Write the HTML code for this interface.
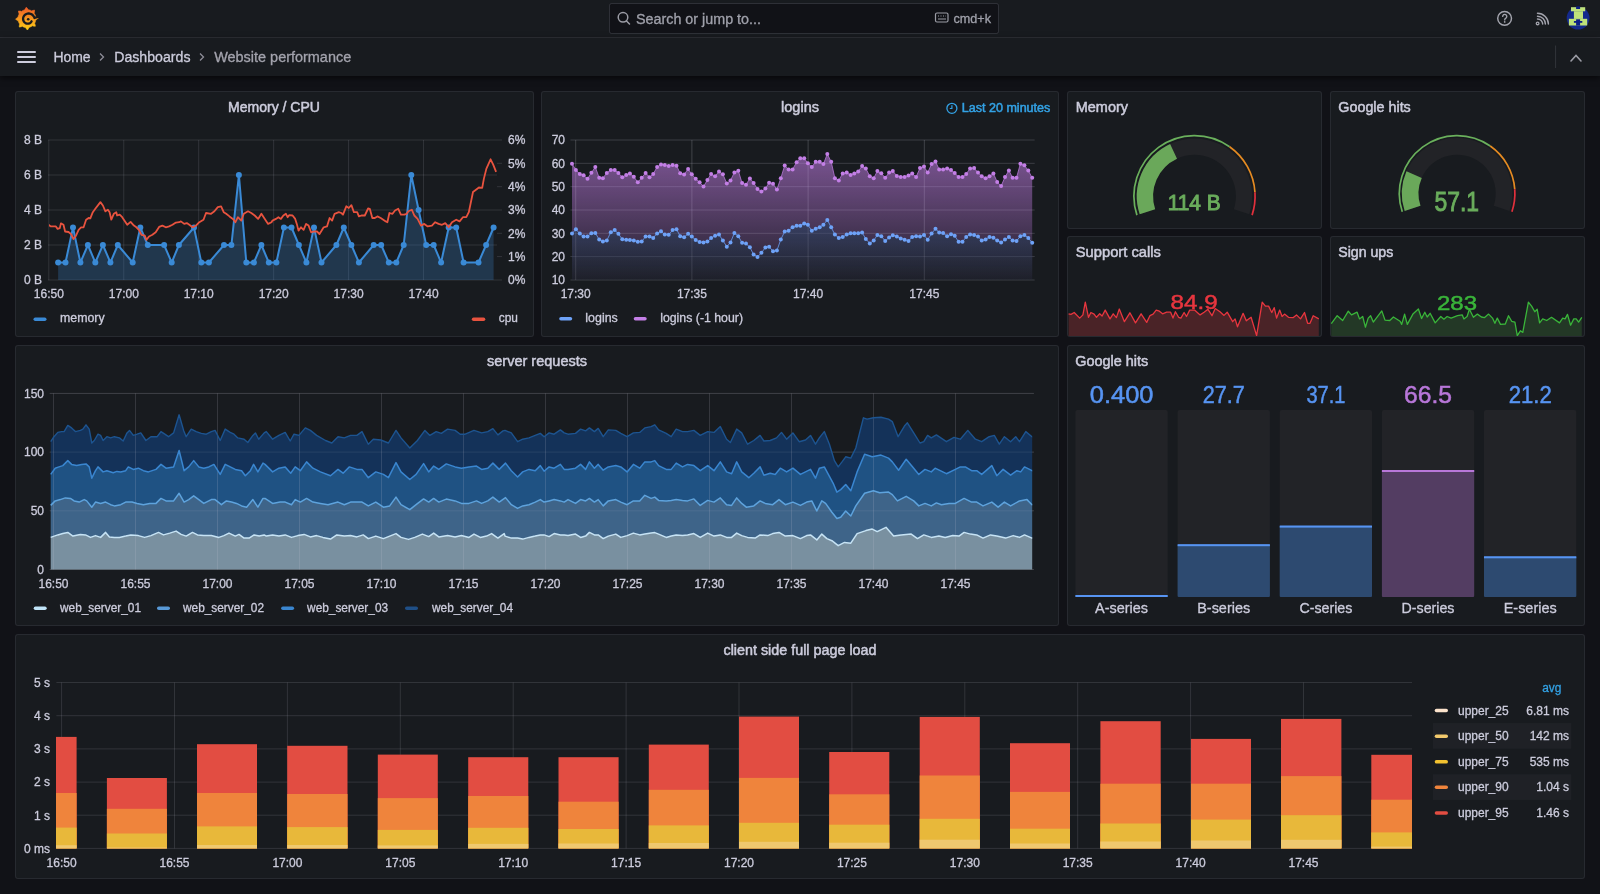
<!DOCTYPE html>
<html><head><meta charset="utf-8"><style>
html,body{margin:0;padding:0;width:1600px;height:894px;overflow:hidden;background:#111217;font-family:"Liberation Sans",sans-serif;}
.bar{position:absolute;left:0;width:1600px;background:#181b1f;}
.panel{position:absolute;box-sizing:border-box;background:#181b1f;border:1px solid rgba(204,204,220,0.09);border-radius:3px;}
svg{position:absolute;left:0;top:0;will-change:transform;}
svg text{font-family:"Liberation Sans",sans-serif;}
</style></head><body>

<div class="bar" style="top:0;height:37px;border-bottom:1px solid rgba(204,204,220,0.12)"></div>
<div class="bar" style="top:38px;height:38px;box-shadow:0 2px 6px rgba(0,0,0,0.6)"></div>
<div class="panel" style="left:15px;top:91px;width:519px;height:246px"></div>
<div class="panel" style="left:541px;top:91px;width:518px;height:246px"></div>
<div class="panel" style="left:1067px;top:91px;width:255px;height:138px"></div>
<div class="panel" style="left:1330px;top:91px;width:255px;height:138px"></div>
<div class="panel" style="left:1067px;top:236px;width:255px;height:101px"></div>
<div class="panel" style="left:1330px;top:236px;width:255px;height:101px"></div>
<div class="panel" style="left:15px;top:345px;width:1044px;height:281px"></div>
<div class="panel" style="left:1067px;top:345px;width:518px;height:281px"></div>
<div class="panel" style="left:15px;top:634px;width:1570px;height:245px"></div>
<svg width="1600" height="894" viewBox="0 0 1600 894">
<defs>
<linearGradient id="lg" x1="0" y1="0" x2="0" y2="1"><stop offset="0" stop-color="#f05a28"/><stop offset="1" stop-color="#fcd116"/></linearGradient>
<linearGradient id="gp" gradientUnits="userSpaceOnUse" x1="0" y1="140" x2="0" y2="280"><stop offset="0" stop-color="#b877d9" stop-opacity="0.68"/><stop offset="1" stop-color="#b877d9" stop-opacity="0.08"/></linearGradient>
<linearGradient id="gb" gradientUnits="userSpaceOnUse" x1="0" y1="220" x2="0" y2="280"><stop offset="0" stop-color="#5794f2" stop-opacity="0.22"/><stop offset="1" stop-color="#5794f2" stop-opacity="0.02"/></linearGradient>
<clipPath id="cp1"><rect x="49" y="130" width="448" height="151"/></clipPath>
<clipPath id="cp9"><rect x="56" y="670" width="1356" height="179"/></clipPath>
</defs>
<polygon points="26.3,7.2 27.1,8 27.7,8.8 28.2,9.7 28.8,9.8 29.4,9.9 29.9,10.1 30.5,10.3 31,10.6 31.5,10.9 32.5,10.5 33.5,10.3 34.5,10.1 34.5,11.2 34.4,12.3 34.1,13.2 34.5,13.7 34.8,14.2 35,14.7 35.3,15.3 35.5,15.8 35.6,16.4 36.5,16.8 37.4,17.4 38.3,18 37.5,18.8 36.7,19.4 35.8,19.9 35.7,20.5 35.6,21.1 35.4,21.6 35.2,22.2 34.9,22.7 34.6,23.2 35,24.2 35.2,25.2 35.4,26.2 34.3,26.2 33.2,26.1 32.3,25.8 31.8,26.2 31.3,26.5 30.8,26.7 30.2,27 29.7,27.2 29.1,27.3 28.7,28.2 28.1,29.1 27.5,30 26.7,29.2 26.1,28.4 25.6,27.5 25,27.4 24.4,27.3 23.9,27.1 23.3,26.9 22.8,26.6 22.3,26.3 21.3,26.7 20.3,26.9 19.3,27.1 19.3,26 19.4,24.9 19.7,24 19.3,23.5 19,23 18.8,22.5 18.5,21.9 18.3,21.4 18.2,20.8 17.3,20.4 16.4,19.8 15.5,19.2 16.3,18.4 17.1,17.8 18,17.3 18.1,16.7 18.2,16.1 18.4,15.6 18.6,15 18.9,14.5 19.2,14 18.8,13 18.6,12 18.4,11 19.5,11 20.6,11.1 21.5,11.4 22,11 22.5,10.7 23,10.5 23.6,10.2 24.1,10 24.7,9.9 25.1,9 25.7,8.1" fill="url(#lg)" stroke="url(#lg)" stroke-width="0.6" stroke-linejoin="round"/>
<polyline points="38.5,16.6 34.5,18 34.2,17.1 33.7,16.4 33.2,15.7 32.6,15 32,14.5 31.2,14.1 30.5,13.8 29.7,13.6 28.9,13.5 28,13.5 27.3,13.7 26.5,13.9 25.8,14.3 25.2,14.7 24.6,15.2 24.1,15.8 23.7,16.4 23.4,17.1 23.2,17.8 23.1,18.5 23.1,19.2 23.2,19.9 23.4,20.6 23.7,21.2 24,21.8 24.5,22.3 25,22.7 25.5,23.1 26.1,23.4 26.7,23.6 27.3,23.7 27.9,23.7 28.5,23.6 29.1,23.5 29.7,23.3 30.2,23 30.6,22.6 31,22.2 31.3,21.7 31.6,21.3" fill="none" stroke="#181b1f" stroke-width="2.3" stroke-linecap="round" stroke-linejoin="round"/>
<circle cx="28.2" cy="19.3" r="1.3" fill="#181b1f"/>
<rect x="609.5" y="3.5" width="389" height="30" rx="2" fill="#111217" stroke="rgba(204,204,220,0.15)" stroke-width="1"/>
<circle cx="623" cy="17.3" r="4.8" fill="none" stroke="#9b9ca5" stroke-width="1.5"/><line x1="626.5" y1="21" x2="629.5" y2="24" stroke="#9b9ca5" stroke-width="1.5" stroke-linecap="round"/>
<text x="636" y="23.5" font-size="14" fill="#9fa0aa" text-anchor="start" font-weight="400" textLength="125" lengthAdjust="spacingAndGlyphs" stroke="#9fa0aa" stroke-width="0.3">Search or jump to...</text>
<rect x="935.5" y="13" width="12.5" height="9" rx="1.5" fill="none" stroke="#9b9ca5" stroke-width="1.2"/>
<path d="M938,16h1M940.5,16h1M943,16h1M945.5,16h0.5M938,19h8" stroke="#9b9ca5" stroke-width="1"/>
<text x="953.5" y="22.5" font-size="12.5" fill="#9fa0aa" text-anchor="start" font-weight="400" textLength="37.5" lengthAdjust="spacingAndGlyphs" stroke="#9fa0aa" stroke-width="0.3">cmd+k</text>
<circle cx="1504.6" cy="18.3" r="6.9" fill="none" stroke="#a3a4ad" stroke-width="1.45"/>
<path d="M1502.7,16.4 A2.05,2.05 0 1 1 1505.9,18.1 Q1504.7,18.8 1504.7,19.9" fill="none" stroke="#a3a4ad" stroke-width="1.35" stroke-linecap="round"/>
<circle cx="1504.7" cy="21.9" r="0.85" fill="#a3a4ad"/>
<circle cx="1537.6" cy="23.4" r="1.35" fill="none" stroke="#a3a4ad" stroke-width="1.3"/>
<path d="M1537.5,18.9 A5.2,5.2 0 0 1 1542.7,24.1 M1537.5,16.2 A7.9,7.9 0 0 1 1545.4,24.1 M1537.5,13.2 A10.9,10.9 0 0 1 1548.4,24.1" fill="none" stroke="#a3a4ad" stroke-width="1.45" stroke-linecap="round"/>
<circle cx="1578.1" cy="18.1" r="11.4" fill="#142a8c"/>
<g fill="#bfe27a"><rect x="1571" y="7.2" width="14.2" height="4.1"/><rect x="1573.9" y="11.2" width="9.1" height="7.7"/><rect x="1568.9" y="18.8" width="18.3" height="6.7"/></g>
<g fill="#0c1f85"><rect x="1576.1" y="6.5" width="4" height="2.5"/><rect x="1576.1" y="19.3" width="4" height="6.3"/><rect x="1573.9" y="21" width="8.4" height="1.8"/></g>
<rect x="17" y="51" width="19" height="2" rx="1" fill="#ccccdc"/>
<rect x="17" y="56" width="19" height="2" rx="1" fill="#ccccdc"/>
<rect x="17" y="61" width="19" height="2" rx="1" fill="#ccccdc"/>
<text x="53.4" y="62.2" font-size="14" fill="#ccccdc" text-anchor="start" font-weight="400" textLength="37.2" lengthAdjust="spacingAndGlyphs" stroke="#ccccdc" stroke-width="0.3">Home</text>
<path d="M100,53.5 L103.5,57 L100,60.5" fill="none" stroke="#8e8e99" stroke-width="1.3"/>
<text x="114.2" y="62.2" font-size="14" fill="#ccccdc" text-anchor="start" font-weight="400" textLength="76.3" lengthAdjust="spacingAndGlyphs" stroke="#ccccdc" stroke-width="0.3">Dashboards</text>
<path d="M200,53.5 L203.5,57 L200,60.5" fill="none" stroke="#8e8e99" stroke-width="1.3"/>
<text x="214.2" y="62.2" font-size="14" fill="#a3a3ad" text-anchor="start" font-weight="400" textLength="137" lengthAdjust="spacingAndGlyphs" stroke="#a3a3ad" stroke-width="0.3">Website performance</text>
<line x1="1555.6" y1="45.5" x2="1555.6" y2="68" stroke="rgba(204,204,220,0.15)" stroke-width="1"/>
<path d="M1571,61 L1576,55.5 L1581,61" fill="none" stroke="#9b9ca5" stroke-width="1.6" stroke-linecap="round"/>
<text x="274" y="112.1" font-size="14" fill="#ccccdc" text-anchor="middle" font-weight="400" textLength="92" lengthAdjust="spacingAndGlyphs" stroke="#ccccdc" stroke-width="0.5">Memory / CPU</text>
<text x="800" y="112.1" font-size="14" fill="#ccccdc" text-anchor="middle" font-weight="400" textLength="38" lengthAdjust="spacingAndGlyphs" stroke="#ccccdc" stroke-width="0.5">logins</text>
<text x="1075.8" y="112.1" font-size="14" fill="#ccccdc" text-anchor="start" font-weight="400" textLength="52.2" lengthAdjust="spacingAndGlyphs" stroke="#ccccdc" stroke-width="0.5">Memory</text>
<text x="1338.3" y="112.1" font-size="14" fill="#ccccdc" text-anchor="start" font-weight="400" textLength="72.5" lengthAdjust="spacingAndGlyphs" stroke="#ccccdc" stroke-width="0.5">Google hits</text>
<text x="1075.8" y="256.8" font-size="14" fill="#ccccdc" text-anchor="start" font-weight="400" textLength="85" lengthAdjust="spacingAndGlyphs" stroke="#ccccdc" stroke-width="0.5">Support calls</text>
<text x="1338.3" y="256.8" font-size="14" fill="#ccccdc" text-anchor="start" font-weight="400" textLength="55" lengthAdjust="spacingAndGlyphs" stroke="#ccccdc" stroke-width="0.5">Sign ups</text>
<text x="537" y="366" font-size="14" fill="#ccccdc" text-anchor="middle" font-weight="400" textLength="100" lengthAdjust="spacingAndGlyphs" stroke="#ccccdc" stroke-width="0.5">server requests</text>
<text x="1075.2" y="366" font-size="14" fill="#ccccdc" text-anchor="start" font-weight="400" textLength="73" lengthAdjust="spacingAndGlyphs" stroke="#ccccdc" stroke-width="0.5">Google hits</text>
<text x="800" y="654.9" font-size="14" fill="#ccccdc" text-anchor="middle" font-weight="400" textLength="153" lengthAdjust="spacingAndGlyphs" stroke="#ccccdc" stroke-width="0.5">client side full page load</text>
<line x1="48" y1="140" x2="497" y2="140" stroke="rgba(204,204,220,0.14)"/>
<text x="41.9" y="144.3" font-size="12" fill="#ccccdc" text-anchor="end" font-weight="400" stroke="#ccccdc" stroke-width="0.3">8 B</text>
<line x1="48" y1="175" x2="497" y2="175" stroke="rgba(204,204,220,0.14)"/>
<text x="41.9" y="179.3" font-size="12" fill="#ccccdc" text-anchor="end" font-weight="400" stroke="#ccccdc" stroke-width="0.3">6 B</text>
<line x1="48" y1="210" x2="497" y2="210" stroke="rgba(204,204,220,0.14)"/>
<text x="41.9" y="214.3" font-size="12" fill="#ccccdc" text-anchor="end" font-weight="400" stroke="#ccccdc" stroke-width="0.3">4 B</text>
<line x1="48" y1="245" x2="497" y2="245" stroke="rgba(204,204,220,0.14)"/>
<text x="41.9" y="249.3" font-size="12" fill="#ccccdc" text-anchor="end" font-weight="400" stroke="#ccccdc" stroke-width="0.3">2 B</text>
<line x1="48" y1="280" x2="497" y2="280" stroke="rgba(204,204,220,0.14)"/>
<text x="41.9" y="284.3" font-size="12" fill="#ccccdc" text-anchor="end" font-weight="400" stroke="#ccccdc" stroke-width="0.3">0 B</text>
<line x1="48.8" y1="140" x2="48.8" y2="280" stroke="rgba(204,204,220,0.14)"/>
<text x="48.8" y="297.8" font-size="12" fill="#ccccdc" text-anchor="middle" font-weight="400" stroke="#ccccdc" stroke-width="0.3">16:50</text>
<line x1="123.75" y1="140" x2="123.75" y2="280" stroke="rgba(204,204,220,0.14)"/>
<text x="123.8" y="297.8" font-size="12" fill="#ccccdc" text-anchor="middle" font-weight="400" stroke="#ccccdc" stroke-width="0.3">17:00</text>
<line x1="198.7" y1="140" x2="198.7" y2="280" stroke="rgba(204,204,220,0.14)"/>
<text x="198.7" y="297.8" font-size="12" fill="#ccccdc" text-anchor="middle" font-weight="400" stroke="#ccccdc" stroke-width="0.3">17:10</text>
<line x1="273.65000000000003" y1="140" x2="273.65000000000003" y2="280" stroke="rgba(204,204,220,0.14)"/>
<text x="273.7" y="297.8" font-size="12" fill="#ccccdc" text-anchor="middle" font-weight="400" stroke="#ccccdc" stroke-width="0.3">17:20</text>
<line x1="348.6" y1="140" x2="348.6" y2="280" stroke="rgba(204,204,220,0.14)"/>
<text x="348.6" y="297.8" font-size="12" fill="#ccccdc" text-anchor="middle" font-weight="400" stroke="#ccccdc" stroke-width="0.3">17:30</text>
<line x1="423.55" y1="140" x2="423.55" y2="280" stroke="rgba(204,204,220,0.14)"/>
<text x="423.6" y="297.8" font-size="12" fill="#ccccdc" text-anchor="middle" font-weight="400" stroke="#ccccdc" stroke-width="0.3">17:40</text>
<line x1="497" y1="140.0" x2="502" y2="140.0" stroke="rgba(204,204,220,0.14)"/>
<text x="508" y="144.3" font-size="12" fill="#ccccdc" text-anchor="start" font-weight="400" stroke="#ccccdc" stroke-width="0.3">6%</text>
<line x1="497" y1="163.3" x2="502" y2="163.3" stroke="rgba(204,204,220,0.14)"/>
<text x="508" y="167.6" font-size="12" fill="#ccccdc" text-anchor="start" font-weight="400" stroke="#ccccdc" stroke-width="0.3">5%</text>
<line x1="497" y1="186.7" x2="502" y2="186.7" stroke="rgba(204,204,220,0.14)"/>
<text x="508" y="191" font-size="12" fill="#ccccdc" text-anchor="start" font-weight="400" stroke="#ccccdc" stroke-width="0.3">4%</text>
<line x1="497" y1="210.0" x2="502" y2="210.0" stroke="rgba(204,204,220,0.14)"/>
<text x="508" y="214.3" font-size="12" fill="#ccccdc" text-anchor="start" font-weight="400" stroke="#ccccdc" stroke-width="0.3">3%</text>
<line x1="497" y1="233.3" x2="502" y2="233.3" stroke="rgba(204,204,220,0.14)"/>
<text x="508" y="237.6" font-size="12" fill="#ccccdc" text-anchor="start" font-weight="400" stroke="#ccccdc" stroke-width="0.3">2%</text>
<line x1="497" y1="256.6" x2="502" y2="256.6" stroke="rgba(204,204,220,0.14)"/>
<text x="508" y="260.9" font-size="12" fill="#ccccdc" text-anchor="start" font-weight="400" stroke="#ccccdc" stroke-width="0.3">1%</text>
<line x1="497" y1="280.0" x2="502" y2="280.0" stroke="rgba(204,204,220,0.14)"/>
<text x="508" y="284.3" font-size="12" fill="#ccccdc" text-anchor="start" font-weight="400" stroke="#ccccdc" stroke-width="0.3">0%</text>
<polygon points="58.1,280 58.1,262.5 65.5,262.5 73,227.5 80.4,262.5 87.9,245 95.3,262.5 102.9,245 110.4,262.5 117.8,245 132.7,262.5 140.3,227.5 147.8,245 164.1,245 171.7,262.5 178.9,245 194,227.5 201.3,262.5 208.9,262.5 224,245 231.4,245 238.9,175 246.3,262.5 253.9,262.5 261.4,245 268.8,262.5 276.4,262.5 283.9,227.5 291.5,227.5 298.9,245 306.4,262.5 314,227.5 321.5,262.5 336.4,245 343.8,227.5 351.4,245 358.9,262.5 373.7,245 381.2,245 388.8,262.5 396.3,262.5 403.7,245 411.3,175 418.6,210 426.2,245 433.7,245 441.1,262.5 448.7,227.5 456.2,227.5 463.6,262.5 478.5,262.5 486.1,245 493.6,227.5 493.6,280" fill="#3a8ad6" fill-opacity="0.25"/>
<polyline points="58.1,262.5 65.5,262.5 73,227.5 80.4,262.5 87.9,245 95.3,262.5 102.9,245 110.4,262.5 117.8,245 132.7,262.5 140.3,227.5 147.8,245 164.1,245 171.7,262.5 178.9,245 194,227.5 201.3,262.5 208.9,262.5 224,245 231.4,245 238.9,175 246.3,262.5 253.9,262.5 261.4,245 268.8,262.5 276.4,262.5 283.9,227.5 291.5,227.5 298.9,245 306.4,262.5 314,227.5 321.5,262.5 336.4,245 343.8,227.5 351.4,245 358.9,262.5 373.7,245 381.2,245 388.8,262.5 396.3,262.5 403.7,245 411.3,175 418.6,210 426.2,245 433.7,245 441.1,262.5 448.7,227.5 456.2,227.5 463.6,262.5 478.5,262.5 486.1,245 493.6,227.5" fill="none" stroke="#3a8ad6" stroke-width="2" stroke-linejoin="round"/>
<circle cx="58.1" cy="262.5" r="3" fill="#3a8ad6"/>
<circle cx="65.5" cy="262.5" r="3" fill="#3a8ad6"/>
<circle cx="73" cy="227.5" r="3" fill="#3a8ad6"/>
<circle cx="80.4" cy="262.5" r="3" fill="#3a8ad6"/>
<circle cx="87.9" cy="245" r="3" fill="#3a8ad6"/>
<circle cx="95.3" cy="262.5" r="3" fill="#3a8ad6"/>
<circle cx="102.9" cy="245" r="3" fill="#3a8ad6"/>
<circle cx="110.4" cy="262.5" r="3" fill="#3a8ad6"/>
<circle cx="117.8" cy="245" r="3" fill="#3a8ad6"/>
<circle cx="132.7" cy="262.5" r="3" fill="#3a8ad6"/>
<circle cx="140.3" cy="227.5" r="3" fill="#3a8ad6"/>
<circle cx="147.8" cy="245" r="3" fill="#3a8ad6"/>
<circle cx="164.1" cy="245" r="3" fill="#3a8ad6"/>
<circle cx="171.7" cy="262.5" r="3" fill="#3a8ad6"/>
<circle cx="178.9" cy="245" r="3" fill="#3a8ad6"/>
<circle cx="194" cy="227.5" r="3" fill="#3a8ad6"/>
<circle cx="201.3" cy="262.5" r="3" fill="#3a8ad6"/>
<circle cx="208.9" cy="262.5" r="3" fill="#3a8ad6"/>
<circle cx="224" cy="245" r="3" fill="#3a8ad6"/>
<circle cx="231.4" cy="245" r="3" fill="#3a8ad6"/>
<circle cx="238.9" cy="175" r="3" fill="#3a8ad6"/>
<circle cx="246.3" cy="262.5" r="3" fill="#3a8ad6"/>
<circle cx="253.9" cy="262.5" r="3" fill="#3a8ad6"/>
<circle cx="261.4" cy="245" r="3" fill="#3a8ad6"/>
<circle cx="268.8" cy="262.5" r="3" fill="#3a8ad6"/>
<circle cx="276.4" cy="262.5" r="3" fill="#3a8ad6"/>
<circle cx="283.9" cy="227.5" r="3" fill="#3a8ad6"/>
<circle cx="291.5" cy="227.5" r="3" fill="#3a8ad6"/>
<circle cx="298.9" cy="245" r="3" fill="#3a8ad6"/>
<circle cx="306.4" cy="262.5" r="3" fill="#3a8ad6"/>
<circle cx="314" cy="227.5" r="3" fill="#3a8ad6"/>
<circle cx="321.5" cy="262.5" r="3" fill="#3a8ad6"/>
<circle cx="336.4" cy="245" r="3" fill="#3a8ad6"/>
<circle cx="343.8" cy="227.5" r="3" fill="#3a8ad6"/>
<circle cx="351.4" cy="245" r="3" fill="#3a8ad6"/>
<circle cx="358.9" cy="262.5" r="3" fill="#3a8ad6"/>
<circle cx="373.7" cy="245" r="3" fill="#3a8ad6"/>
<circle cx="381.2" cy="245" r="3" fill="#3a8ad6"/>
<circle cx="388.8" cy="262.5" r="3" fill="#3a8ad6"/>
<circle cx="396.3" cy="262.5" r="3" fill="#3a8ad6"/>
<circle cx="403.7" cy="245" r="3" fill="#3a8ad6"/>
<circle cx="411.3" cy="175" r="3" fill="#3a8ad6"/>
<circle cx="418.6" cy="210" r="3" fill="#3a8ad6"/>
<circle cx="426.2" cy="245" r="3" fill="#3a8ad6"/>
<circle cx="433.7" cy="245" r="3" fill="#3a8ad6"/>
<circle cx="441.1" cy="262.5" r="3" fill="#3a8ad6"/>
<circle cx="448.7" cy="227.5" r="3" fill="#3a8ad6"/>
<circle cx="456.2" cy="227.5" r="3" fill="#3a8ad6"/>
<circle cx="463.6" cy="262.5" r="3" fill="#3a8ad6"/>
<circle cx="478.5" cy="262.5" r="3" fill="#3a8ad6"/>
<circle cx="486.1" cy="245" r="3" fill="#3a8ad6"/>
<circle cx="493.6" cy="227.5" r="3" fill="#3a8ad6"/>
<polyline points="48.4,224.8 50.9,226.4 55.9,226.4 57.6,228.9 59.8,228.1 60.9,223.4 63.5,224.8 65.1,231.5 68.5,232 71,234 73.5,239 76,235.7 78.6,229.8 81.1,227.3 83.6,227.3 86.1,219.7 88.6,218 90.3,218.4 92.8,212.2 95.3,208.8 100.4,202.1 102.9,205.5 105.4,211.3 107.9,209.7 109.6,212.2 111.3,219.7 113.8,213.8 116.3,212.2 117.1,215.5 119.7,214.7 122.2,217.2 127.2,224.8 130.6,221.9 133.9,225.6 136.4,227.3 138.9,229.8 141.5,234.8 144.8,235.7 146.5,239.8 149,236.5 152.4,234.8 155.7,232.3 159.1,226.9 162.4,225.6 165.8,227.3 169.1,226.4 172.5,224.8 175.9,222.6 179.2,222.2 180.9,221.4 184.2,223.9 186.8,223.1 189.3,224.8 192.6,227.3 196,225.6 199.3,222.2 203.5,219.7 206,213 211.1,213.8 214.4,211.3 217.8,207.1 221.1,206.3 223.7,212.2 226.2,213.8 229.5,216.4 232.9,218.9 235.4,222.2 237.9,217.2 241.3,220.6 243.8,213.8 248,211.3 251.3,213 254.7,215.5 258.1,218.9 261.4,213.8 264.8,218.9 268.1,223.9 271.5,222.2 272.5,220.6 275.9,218.9 278.4,217.2 280.9,218.9 283.4,215.5 285.9,213.8 287.6,217.2 289.3,215.2 292.6,215.5 295.2,218.9 296.8,223.9 298.5,230.6 301,227.3 303.6,229.8 306.1,223.9 308.6,225.6 311.1,232.3 313.6,231.5 317,231.5 319.5,234 323.7,227.3 327,226.4 329.6,218 332.1,220.6 334.6,213.8 338.8,212.2 341.3,213 343,214.7 346.3,206.3 348.8,208 351.4,205.1 353.9,212.2 357.2,212.2 358.9,216.4 361.4,215.5 364.8,215.5 368.1,208.5 369.8,208.8 372.3,218 374.8,218 377.4,216.4 380.7,218 385.8,221.4 387.4,222.2 389.4,213 392.5,213.8 395,210.5 398.3,208.8 400.9,214.7 404.2,214.7 406.7,213.8 408.4,211.3 411.8,209.7 414.3,215.5 417.6,218.9 421,225.6 424.3,223.9 427.7,226.4 431.9,225.6 435.2,222.2 438.6,223.9 442,224.8 445.3,223.1 448.7,227.3 452,222.2 456.2,219.7 459.6,221.4 462.9,217.2 466.3,217.2 468.8,212.2 473,192 476.3,189.5 478.9,187.5 482.2,187.8 483.9,178.6 486.4,168.6 490.6,159.3 493.1,164.4 496.1,171.9" fill="none" stroke="#e8533f" stroke-width="1.8" stroke-linejoin="round" clip-path="url(#cp1)"/>
<rect x="33.5" y="317.5" width="13" height="3.5" rx="1.75" fill="#3a8ad6"/>
<text x="60" y="322.2" font-size="12" fill="#ccccdc" text-anchor="start" font-weight="400" textLength="44.6" lengthAdjust="spacingAndGlyphs" stroke="#ccccdc" stroke-width="0.3">memory</text>
<rect x="471.8" y="317.5" width="13.5" height="3.5" rx="1.75" fill="#e8533f"/>
<text x="498.8" y="322.2" font-size="12" fill="#ccccdc" text-anchor="start" font-weight="400" textLength="19.2" lengthAdjust="spacingAndGlyphs" stroke="#ccccdc" stroke-width="0.3">cpu</text>
<line x1="570.4" y1="140.0" x2="1034.7" y2="140.0" stroke="rgba(204,204,220,0.14)"/>
<text x="565" y="144.3" font-size="12" fill="#ccccdc" text-anchor="end" font-weight="400" stroke="#ccccdc" stroke-width="0.3">70</text>
<line x1="570.4" y1="163.3" x2="1034.7" y2="163.3" stroke="rgba(204,204,220,0.14)"/>
<text x="565" y="167.6" font-size="12" fill="#ccccdc" text-anchor="end" font-weight="400" stroke="#ccccdc" stroke-width="0.3">60</text>
<line x1="570.4" y1="186.7" x2="1034.7" y2="186.7" stroke="rgba(204,204,220,0.14)"/>
<text x="565" y="191" font-size="12" fill="#ccccdc" text-anchor="end" font-weight="400" stroke="#ccccdc" stroke-width="0.3">50</text>
<line x1="570.4" y1="210.0" x2="1034.7" y2="210.0" stroke="rgba(204,204,220,0.14)"/>
<text x="565" y="214.3" font-size="12" fill="#ccccdc" text-anchor="end" font-weight="400" stroke="#ccccdc" stroke-width="0.3">40</text>
<line x1="570.4" y1="233.3" x2="1034.7" y2="233.3" stroke="rgba(204,204,220,0.14)"/>
<text x="565" y="237.6" font-size="12" fill="#ccccdc" text-anchor="end" font-weight="400" stroke="#ccccdc" stroke-width="0.3">30</text>
<line x1="570.4" y1="256.6" x2="1034.7" y2="256.6" stroke="rgba(204,204,220,0.14)"/>
<text x="565" y="260.9" font-size="12" fill="#ccccdc" text-anchor="end" font-weight="400" stroke="#ccccdc" stroke-width="0.3">20</text>
<line x1="570.4" y1="280.0" x2="1034.7" y2="280.0" stroke="rgba(204,204,220,0.14)"/>
<text x="565" y="284.3" font-size="12" fill="#ccccdc" text-anchor="end" font-weight="400" stroke="#ccccdc" stroke-width="0.3">10</text>
<line x1="575.7" y1="140" x2="575.7" y2="280" stroke="rgba(204,204,220,0.14)"/>
<text x="575.7" y="297.8" font-size="12" fill="#ccccdc" text-anchor="middle" font-weight="400" stroke="#ccccdc" stroke-width="0.3">17:30</text>
<line x1="691.9" y1="140" x2="691.9" y2="280" stroke="rgba(204,204,220,0.14)"/>
<text x="691.9" y="297.8" font-size="12" fill="#ccccdc" text-anchor="middle" font-weight="400" stroke="#ccccdc" stroke-width="0.3">17:35</text>
<line x1="808.1" y1="140" x2="808.1" y2="280" stroke="rgba(204,204,220,0.14)"/>
<text x="808.1" y="297.8" font-size="12" fill="#ccccdc" text-anchor="middle" font-weight="400" stroke="#ccccdc" stroke-width="0.3">17:40</text>
<line x1="924.3" y1="140" x2="924.3" y2="280" stroke="rgba(204,204,220,0.14)"/>
<text x="924.3" y="297.8" font-size="12" fill="#ccccdc" text-anchor="middle" font-weight="400" stroke="#ccccdc" stroke-width="0.3">17:45</text>
<polygon points="572,280 572,163.7 575.9,170 579.8,173.9 583.6,175.3 587.5,178.8 591.4,172.7 595.3,167.1 599.2,177.8 602.9,178.2 606.8,172.9 610.8,170 614.7,170 618.4,172.9 622.3,177.3 626.2,174.9 629.9,173.5 633.8,176.7 637.8,182.3 641.7,177.8 645.6,172.9 649.5,177.3 653.2,173.9 657.1,167.1 661,164.5 664.8,164.9 668.7,166.1 672.6,164.9 676.5,165.7 680.2,173.3 684.1,174.5 688.1,169 691.8,174.3 695.7,178.8 699.6,182.3 703.5,186.6 707.4,180 711.1,173.9 715.1,176.3 719,171.4 722.9,174.3 726.8,183.5 730.5,180.4 734.4,172.4 738.3,170.8 742.1,183.1 746,184.7 749.9,178.4 753.6,182.9 757.5,189 761.4,191.5 765.4,188.6 769.1,182.7 773,183.7 776.9,189.6 780.8,178.2 784.7,165.5 788.6,169.4 792.6,169.4 796.6,162.2 800.3,158.3 804.2,158.3 807.9,163.2 811.8,167.1 815.7,161.8 819.7,161.8 823.4,164.1 827.3,154 831.2,161.8 834.9,178.2 838.8,180.4 842.7,173.5 846.7,172.6 850.6,175.1 854.3,173.5 858.2,171.4 862.1,166.1 865.8,168.4 869.8,176.3 873.7,178.2 877.4,171 881.3,173.3 885.2,177.8 889.1,172.6 892.8,171 896.8,175.9 900.7,176.9 904.6,176.9 908.5,175.5 912.2,173.5 916.1,176.9 920,168.1 924,166.5 927.7,172.6 931.6,164.1 935.5,161.6 939.2,169.4 943.1,169.4 947.1,168.4 951,170 954.7,173.1 958.6,177.1 962.5,177.1 966.2,173.9 970.1,168.4 974.1,168.1 978,172.6 981.7,176.3 985.6,178.2 989.5,176.3 993.4,173.5 997.2,181.9 1001.1,186.1 1005,177.1 1008.9,170.4 1012.6,177.8 1016.5,177.8 1020.4,163.7 1024.4,165.3 1028.3,170.6 1032.2,177.8 1032.2,280" fill="url(#gp)"/>
<polygon points="572,280 572,233.6 575.9,229.3 579.8,233.6 583.6,236.5 587.5,236.5 591.4,233.2 595.3,233 599.2,239.5 602.9,241.4 606.8,240.5 610.8,232.2 614.7,230.1 618.4,233.8 622.3,239.3 626.2,239.7 629.9,239.9 633.8,240.5 637.8,241.8 641.7,241.6 645.6,236.5 649.5,236.5 653.2,237.9 657.1,233.4 661,231.3 664.8,234.6 668.7,234.8 672.6,230.1 676.5,229.3 680.2,236.2 684.1,237.3 688.1,233.8 691.8,236.5 695.7,240.1 699.6,242 703.5,242.4 707.4,241.6 711.1,238.1 715.1,235.8 719,234.6 722.9,240.5 726.8,246.7 730.5,242.4 734.4,233 738.3,236.2 742.1,242.8 746,243.6 749.9,247.3 753.6,254.5 757.5,256.9 761.4,252.8 765.4,247.5 769.1,246.7 773,251.2 776.9,250.6 780.8,239.5 784.7,231.5 788.6,230.7 792.6,227.3 796.6,225.8 800.3,225.8 804.2,223.4 807.9,224.8 811.8,230.7 815.7,228.7 819.7,227.2 823.4,224.8 827.3,219.9 831.2,227.3 834.9,234.6 838.8,237.9 842.7,237.1 846.7,234.6 850.6,233.2 854.3,233.2 858.2,233.2 862.1,232.6 865.8,238.9 869.8,243.4 873.7,240.5 877.4,235 881.3,236.2 885.2,241 889.1,237.5 892.8,235.2 896.8,236.5 900.7,238.5 904.6,239.7 908.5,241 912.2,236.9 916.1,236.2 920,236.5 924,235 927.7,239.7 931.6,233.6 935.5,228.7 939.2,232.6 943.1,233 947.1,236.2 951,234.2 954.7,235.8 958.6,241.8 962.5,241.8 966.2,236.9 970.1,234.6 974.1,235 978,236.5 981.7,240.5 985.6,239.5 989.5,236.9 993.4,237.7 997.2,240.5 1001.1,242.4 1005,239.5 1008.9,236.9 1012.6,240.5 1016.5,241 1020.4,236.2 1024.4,235 1028.3,237.9 1032.2,242.8 1032.2,280" fill="#181b1f" fill-opacity="0.55"/>
<polygon points="572,280 572,233.6 575.9,229.3 579.8,233.6 583.6,236.5 587.5,236.5 591.4,233.2 595.3,233 599.2,239.5 602.9,241.4 606.8,240.5 610.8,232.2 614.7,230.1 618.4,233.8 622.3,239.3 626.2,239.7 629.9,239.9 633.8,240.5 637.8,241.8 641.7,241.6 645.6,236.5 649.5,236.5 653.2,237.9 657.1,233.4 661,231.3 664.8,234.6 668.7,234.8 672.6,230.1 676.5,229.3 680.2,236.2 684.1,237.3 688.1,233.8 691.8,236.5 695.7,240.1 699.6,242 703.5,242.4 707.4,241.6 711.1,238.1 715.1,235.8 719,234.6 722.9,240.5 726.8,246.7 730.5,242.4 734.4,233 738.3,236.2 742.1,242.8 746,243.6 749.9,247.3 753.6,254.5 757.5,256.9 761.4,252.8 765.4,247.5 769.1,246.7 773,251.2 776.9,250.6 780.8,239.5 784.7,231.5 788.6,230.7 792.6,227.3 796.6,225.8 800.3,225.8 804.2,223.4 807.9,224.8 811.8,230.7 815.7,228.7 819.7,227.2 823.4,224.8 827.3,219.9 831.2,227.3 834.9,234.6 838.8,237.9 842.7,237.1 846.7,234.6 850.6,233.2 854.3,233.2 858.2,233.2 862.1,232.6 865.8,238.9 869.8,243.4 873.7,240.5 877.4,235 881.3,236.2 885.2,241 889.1,237.5 892.8,235.2 896.8,236.5 900.7,238.5 904.6,239.7 908.5,241 912.2,236.9 916.1,236.2 920,236.5 924,235 927.7,239.7 931.6,233.6 935.5,228.7 939.2,232.6 943.1,233 947.1,236.2 951,234.2 954.7,235.8 958.6,241.8 962.5,241.8 966.2,236.9 970.1,234.6 974.1,235 978,236.5 981.7,240.5 985.6,239.5 989.5,236.9 993.4,237.7 997.2,240.5 1001.1,242.4 1005,239.5 1008.9,236.9 1012.6,240.5 1016.5,241 1020.4,236.2 1024.4,235 1028.3,237.9 1032.2,242.8 1032.2,280" fill="url(#gb)"/>
<line x1="575.7" y1="140" x2="575.7" y2="280" stroke="rgba(204,204,220,0.10)"/>
<line x1="691.9" y1="140" x2="691.9" y2="280" stroke="rgba(204,204,220,0.10)"/>
<line x1="808.1" y1="140" x2="808.1" y2="280" stroke="rgba(204,204,220,0.10)"/>
<line x1="924.3" y1="140" x2="924.3" y2="280" stroke="rgba(204,204,220,0.10)"/>
<line x1="570.4" y1="140.0" x2="1034.7" y2="140.0" stroke="rgba(204,204,220,0.07)"/>
<line x1="570.4" y1="163.3" x2="1034.7" y2="163.3" stroke="rgba(204,204,220,0.07)"/>
<line x1="570.4" y1="186.7" x2="1034.7" y2="186.7" stroke="rgba(204,204,220,0.07)"/>
<line x1="570.4" y1="210.0" x2="1034.7" y2="210.0" stroke="rgba(204,204,220,0.07)"/>
<line x1="570.4" y1="233.3" x2="1034.7" y2="233.3" stroke="rgba(204,204,220,0.07)"/>
<line x1="570.4" y1="256.6" x2="1034.7" y2="256.6" stroke="rgba(204,204,220,0.07)"/>
<line x1="570.4" y1="280.0" x2="1034.7" y2="280.0" stroke="rgba(204,204,220,0.07)"/>
<polyline points="572,163.7 575.9,170 579.8,173.9 583.6,175.3 587.5,178.8 591.4,172.7 595.3,167.1 599.2,177.8 602.9,178.2 606.8,172.9 610.8,170 614.7,170 618.4,172.9 622.3,177.3 626.2,174.9 629.9,173.5 633.8,176.7 637.8,182.3 641.7,177.8 645.6,172.9 649.5,177.3 653.2,173.9 657.1,167.1 661,164.5 664.8,164.9 668.7,166.1 672.6,164.9 676.5,165.7 680.2,173.3 684.1,174.5 688.1,169 691.8,174.3 695.7,178.8 699.6,182.3 703.5,186.6 707.4,180 711.1,173.9 715.1,176.3 719,171.4 722.9,174.3 726.8,183.5 730.5,180.4 734.4,172.4 738.3,170.8 742.1,183.1 746,184.7 749.9,178.4 753.6,182.9 757.5,189 761.4,191.5 765.4,188.6 769.1,182.7 773,183.7 776.9,189.6 780.8,178.2 784.7,165.5 788.6,169.4 792.6,169.4 796.6,162.2 800.3,158.3 804.2,158.3 807.9,163.2 811.8,167.1 815.7,161.8 819.7,161.8 823.4,164.1 827.3,154 831.2,161.8 834.9,178.2 838.8,180.4 842.7,173.5 846.7,172.6 850.6,175.1 854.3,173.5 858.2,171.4 862.1,166.1 865.8,168.4 869.8,176.3 873.7,178.2 877.4,171 881.3,173.3 885.2,177.8 889.1,172.6 892.8,171 896.8,175.9 900.7,176.9 904.6,176.9 908.5,175.5 912.2,173.5 916.1,176.9 920,168.1 924,166.5 927.7,172.6 931.6,164.1 935.5,161.6 939.2,169.4 943.1,169.4 947.1,168.4 951,170 954.7,173.1 958.6,177.1 962.5,177.1 966.2,173.9 970.1,168.4 974.1,168.1 978,172.6 981.7,176.3 985.6,178.2 989.5,176.3 993.4,173.5 997.2,181.9 1001.1,186.1 1005,177.1 1008.9,170.4 1012.6,177.8 1016.5,177.8 1020.4,163.7 1024.4,165.3 1028.3,170.6 1032.2,177.8" fill="none" stroke="#b877d9" stroke-width="1" stroke-opacity="0.8"/>
<polyline points="572,233.6 575.9,229.3 579.8,233.6 583.6,236.5 587.5,236.5 591.4,233.2 595.3,233 599.2,239.5 602.9,241.4 606.8,240.5 610.8,232.2 614.7,230.1 618.4,233.8 622.3,239.3 626.2,239.7 629.9,239.9 633.8,240.5 637.8,241.8 641.7,241.6 645.6,236.5 649.5,236.5 653.2,237.9 657.1,233.4 661,231.3 664.8,234.6 668.7,234.8 672.6,230.1 676.5,229.3 680.2,236.2 684.1,237.3 688.1,233.8 691.8,236.5 695.7,240.1 699.6,242 703.5,242.4 707.4,241.6 711.1,238.1 715.1,235.8 719,234.6 722.9,240.5 726.8,246.7 730.5,242.4 734.4,233 738.3,236.2 742.1,242.8 746,243.6 749.9,247.3 753.6,254.5 757.5,256.9 761.4,252.8 765.4,247.5 769.1,246.7 773,251.2 776.9,250.6 780.8,239.5 784.7,231.5 788.6,230.7 792.6,227.3 796.6,225.8 800.3,225.8 804.2,223.4 807.9,224.8 811.8,230.7 815.7,228.7 819.7,227.2 823.4,224.8 827.3,219.9 831.2,227.3 834.9,234.6 838.8,237.9 842.7,237.1 846.7,234.6 850.6,233.2 854.3,233.2 858.2,233.2 862.1,232.6 865.8,238.9 869.8,243.4 873.7,240.5 877.4,235 881.3,236.2 885.2,241 889.1,237.5 892.8,235.2 896.8,236.5 900.7,238.5 904.6,239.7 908.5,241 912.2,236.9 916.1,236.2 920,236.5 924,235 927.7,239.7 931.6,233.6 935.5,228.7 939.2,232.6 943.1,233 947.1,236.2 951,234.2 954.7,235.8 958.6,241.8 962.5,241.8 966.2,236.9 970.1,234.6 974.1,235 978,236.5 981.7,240.5 985.6,239.5 989.5,236.9 993.4,237.7 997.2,240.5 1001.1,242.4 1005,239.5 1008.9,236.9 1012.6,240.5 1016.5,241 1020.4,236.2 1024.4,235 1028.3,237.9 1032.2,242.8" fill="none" stroke="#6e9ff5" stroke-width="1" stroke-opacity="0.8"/>
<circle cx="572" cy="163.7" r="2" fill="#c37fe6"/>
<circle cx="575.9" cy="170" r="2" fill="#c37fe6"/>
<circle cx="579.8" cy="173.9" r="2" fill="#c37fe6"/>
<circle cx="583.6" cy="175.3" r="2" fill="#c37fe6"/>
<circle cx="587.5" cy="178.8" r="2" fill="#c37fe6"/>
<circle cx="591.4" cy="172.7" r="2" fill="#c37fe6"/>
<circle cx="595.3" cy="167.1" r="2" fill="#c37fe6"/>
<circle cx="599.2" cy="177.8" r="2" fill="#c37fe6"/>
<circle cx="602.9" cy="178.2" r="2" fill="#c37fe6"/>
<circle cx="606.8" cy="172.9" r="2" fill="#c37fe6"/>
<circle cx="610.8" cy="170" r="2" fill="#c37fe6"/>
<circle cx="614.7" cy="170" r="2" fill="#c37fe6"/>
<circle cx="618.4" cy="172.9" r="2" fill="#c37fe6"/>
<circle cx="622.3" cy="177.3" r="2" fill="#c37fe6"/>
<circle cx="626.2" cy="174.9" r="2" fill="#c37fe6"/>
<circle cx="629.9" cy="173.5" r="2" fill="#c37fe6"/>
<circle cx="633.8" cy="176.7" r="2" fill="#c37fe6"/>
<circle cx="637.8" cy="182.3" r="2" fill="#c37fe6"/>
<circle cx="641.7" cy="177.8" r="2" fill="#c37fe6"/>
<circle cx="645.6" cy="172.9" r="2" fill="#c37fe6"/>
<circle cx="649.5" cy="177.3" r="2" fill="#c37fe6"/>
<circle cx="653.2" cy="173.9" r="2" fill="#c37fe6"/>
<circle cx="657.1" cy="167.1" r="2" fill="#c37fe6"/>
<circle cx="661" cy="164.5" r="2" fill="#c37fe6"/>
<circle cx="664.8" cy="164.9" r="2" fill="#c37fe6"/>
<circle cx="668.7" cy="166.1" r="2" fill="#c37fe6"/>
<circle cx="672.6" cy="164.9" r="2" fill="#c37fe6"/>
<circle cx="676.5" cy="165.7" r="2" fill="#c37fe6"/>
<circle cx="680.2" cy="173.3" r="2" fill="#c37fe6"/>
<circle cx="684.1" cy="174.5" r="2" fill="#c37fe6"/>
<circle cx="688.1" cy="169" r="2" fill="#c37fe6"/>
<circle cx="691.8" cy="174.3" r="2" fill="#c37fe6"/>
<circle cx="695.7" cy="178.8" r="2" fill="#c37fe6"/>
<circle cx="699.6" cy="182.3" r="2" fill="#c37fe6"/>
<circle cx="703.5" cy="186.6" r="2" fill="#c37fe6"/>
<circle cx="707.4" cy="180" r="2" fill="#c37fe6"/>
<circle cx="711.1" cy="173.9" r="2" fill="#c37fe6"/>
<circle cx="715.1" cy="176.3" r="2" fill="#c37fe6"/>
<circle cx="719" cy="171.4" r="2" fill="#c37fe6"/>
<circle cx="722.9" cy="174.3" r="2" fill="#c37fe6"/>
<circle cx="726.8" cy="183.5" r="2" fill="#c37fe6"/>
<circle cx="730.5" cy="180.4" r="2" fill="#c37fe6"/>
<circle cx="734.4" cy="172.4" r="2" fill="#c37fe6"/>
<circle cx="738.3" cy="170.8" r="2" fill="#c37fe6"/>
<circle cx="742.1" cy="183.1" r="2" fill="#c37fe6"/>
<circle cx="746" cy="184.7" r="2" fill="#c37fe6"/>
<circle cx="749.9" cy="178.4" r="2" fill="#c37fe6"/>
<circle cx="753.6" cy="182.9" r="2" fill="#c37fe6"/>
<circle cx="757.5" cy="189" r="2" fill="#c37fe6"/>
<circle cx="761.4" cy="191.5" r="2" fill="#c37fe6"/>
<circle cx="765.4" cy="188.6" r="2" fill="#c37fe6"/>
<circle cx="769.1" cy="182.7" r="2" fill="#c37fe6"/>
<circle cx="773" cy="183.7" r="2" fill="#c37fe6"/>
<circle cx="776.9" cy="189.6" r="2" fill="#c37fe6"/>
<circle cx="780.8" cy="178.2" r="2" fill="#c37fe6"/>
<circle cx="784.7" cy="165.5" r="2" fill="#c37fe6"/>
<circle cx="788.6" cy="169.4" r="2" fill="#c37fe6"/>
<circle cx="792.6" cy="169.4" r="2" fill="#c37fe6"/>
<circle cx="796.6" cy="162.2" r="2" fill="#c37fe6"/>
<circle cx="800.3" cy="158.3" r="2" fill="#c37fe6"/>
<circle cx="804.2" cy="158.3" r="2" fill="#c37fe6"/>
<circle cx="807.9" cy="163.2" r="2" fill="#c37fe6"/>
<circle cx="811.8" cy="167.1" r="2" fill="#c37fe6"/>
<circle cx="815.7" cy="161.8" r="2" fill="#c37fe6"/>
<circle cx="819.7" cy="161.8" r="2" fill="#c37fe6"/>
<circle cx="823.4" cy="164.1" r="2" fill="#c37fe6"/>
<circle cx="827.3" cy="154" r="2" fill="#c37fe6"/>
<circle cx="831.2" cy="161.8" r="2" fill="#c37fe6"/>
<circle cx="834.9" cy="178.2" r="2" fill="#c37fe6"/>
<circle cx="838.8" cy="180.4" r="2" fill="#c37fe6"/>
<circle cx="842.7" cy="173.5" r="2" fill="#c37fe6"/>
<circle cx="846.7" cy="172.6" r="2" fill="#c37fe6"/>
<circle cx="850.6" cy="175.1" r="2" fill="#c37fe6"/>
<circle cx="854.3" cy="173.5" r="2" fill="#c37fe6"/>
<circle cx="858.2" cy="171.4" r="2" fill="#c37fe6"/>
<circle cx="862.1" cy="166.1" r="2" fill="#c37fe6"/>
<circle cx="865.8" cy="168.4" r="2" fill="#c37fe6"/>
<circle cx="869.8" cy="176.3" r="2" fill="#c37fe6"/>
<circle cx="873.7" cy="178.2" r="2" fill="#c37fe6"/>
<circle cx="877.4" cy="171" r="2" fill="#c37fe6"/>
<circle cx="881.3" cy="173.3" r="2" fill="#c37fe6"/>
<circle cx="885.2" cy="177.8" r="2" fill="#c37fe6"/>
<circle cx="889.1" cy="172.6" r="2" fill="#c37fe6"/>
<circle cx="892.8" cy="171" r="2" fill="#c37fe6"/>
<circle cx="896.8" cy="175.9" r="2" fill="#c37fe6"/>
<circle cx="900.7" cy="176.9" r="2" fill="#c37fe6"/>
<circle cx="904.6" cy="176.9" r="2" fill="#c37fe6"/>
<circle cx="908.5" cy="175.5" r="2" fill="#c37fe6"/>
<circle cx="912.2" cy="173.5" r="2" fill="#c37fe6"/>
<circle cx="916.1" cy="176.9" r="2" fill="#c37fe6"/>
<circle cx="920" cy="168.1" r="2" fill="#c37fe6"/>
<circle cx="924" cy="166.5" r="2" fill="#c37fe6"/>
<circle cx="927.7" cy="172.6" r="2" fill="#c37fe6"/>
<circle cx="931.6" cy="164.1" r="2" fill="#c37fe6"/>
<circle cx="935.5" cy="161.6" r="2" fill="#c37fe6"/>
<circle cx="939.2" cy="169.4" r="2" fill="#c37fe6"/>
<circle cx="943.1" cy="169.4" r="2" fill="#c37fe6"/>
<circle cx="947.1" cy="168.4" r="2" fill="#c37fe6"/>
<circle cx="951" cy="170" r="2" fill="#c37fe6"/>
<circle cx="954.7" cy="173.1" r="2" fill="#c37fe6"/>
<circle cx="958.6" cy="177.1" r="2" fill="#c37fe6"/>
<circle cx="962.5" cy="177.1" r="2" fill="#c37fe6"/>
<circle cx="966.2" cy="173.9" r="2" fill="#c37fe6"/>
<circle cx="970.1" cy="168.4" r="2" fill="#c37fe6"/>
<circle cx="974.1" cy="168.1" r="2" fill="#c37fe6"/>
<circle cx="978" cy="172.6" r="2" fill="#c37fe6"/>
<circle cx="981.7" cy="176.3" r="2" fill="#c37fe6"/>
<circle cx="985.6" cy="178.2" r="2" fill="#c37fe6"/>
<circle cx="989.5" cy="176.3" r="2" fill="#c37fe6"/>
<circle cx="993.4" cy="173.5" r="2" fill="#c37fe6"/>
<circle cx="997.2" cy="181.9" r="2" fill="#c37fe6"/>
<circle cx="1001.1" cy="186.1" r="2" fill="#c37fe6"/>
<circle cx="1005" cy="177.1" r="2" fill="#c37fe6"/>
<circle cx="1008.9" cy="170.4" r="2" fill="#c37fe6"/>
<circle cx="1012.6" cy="177.8" r="2" fill="#c37fe6"/>
<circle cx="1016.5" cy="177.8" r="2" fill="#c37fe6"/>
<circle cx="1020.4" cy="163.7" r="2" fill="#c37fe6"/>
<circle cx="1024.4" cy="165.3" r="2" fill="#c37fe6"/>
<circle cx="1028.3" cy="170.6" r="2" fill="#c37fe6"/>
<circle cx="1032.2" cy="177.8" r="2" fill="#c37fe6"/>
<circle cx="572" cy="233.6" r="2" fill="#6ea2f7"/>
<circle cx="575.9" cy="229.3" r="2" fill="#6ea2f7"/>
<circle cx="579.8" cy="233.6" r="2" fill="#6ea2f7"/>
<circle cx="583.6" cy="236.5" r="2" fill="#6ea2f7"/>
<circle cx="587.5" cy="236.5" r="2" fill="#6ea2f7"/>
<circle cx="591.4" cy="233.2" r="2" fill="#6ea2f7"/>
<circle cx="595.3" cy="233" r="2" fill="#6ea2f7"/>
<circle cx="599.2" cy="239.5" r="2" fill="#6ea2f7"/>
<circle cx="602.9" cy="241.4" r="2" fill="#6ea2f7"/>
<circle cx="606.8" cy="240.5" r="2" fill="#6ea2f7"/>
<circle cx="610.8" cy="232.2" r="2" fill="#6ea2f7"/>
<circle cx="614.7" cy="230.1" r="2" fill="#6ea2f7"/>
<circle cx="618.4" cy="233.8" r="2" fill="#6ea2f7"/>
<circle cx="622.3" cy="239.3" r="2" fill="#6ea2f7"/>
<circle cx="626.2" cy="239.7" r="2" fill="#6ea2f7"/>
<circle cx="629.9" cy="239.9" r="2" fill="#6ea2f7"/>
<circle cx="633.8" cy="240.5" r="2" fill="#6ea2f7"/>
<circle cx="637.8" cy="241.8" r="2" fill="#6ea2f7"/>
<circle cx="641.7" cy="241.6" r="2" fill="#6ea2f7"/>
<circle cx="645.6" cy="236.5" r="2" fill="#6ea2f7"/>
<circle cx="649.5" cy="236.5" r="2" fill="#6ea2f7"/>
<circle cx="653.2" cy="237.9" r="2" fill="#6ea2f7"/>
<circle cx="657.1" cy="233.4" r="2" fill="#6ea2f7"/>
<circle cx="661" cy="231.3" r="2" fill="#6ea2f7"/>
<circle cx="664.8" cy="234.6" r="2" fill="#6ea2f7"/>
<circle cx="668.7" cy="234.8" r="2" fill="#6ea2f7"/>
<circle cx="672.6" cy="230.1" r="2" fill="#6ea2f7"/>
<circle cx="676.5" cy="229.3" r="2" fill="#6ea2f7"/>
<circle cx="680.2" cy="236.2" r="2" fill="#6ea2f7"/>
<circle cx="684.1" cy="237.3" r="2" fill="#6ea2f7"/>
<circle cx="688.1" cy="233.8" r="2" fill="#6ea2f7"/>
<circle cx="691.8" cy="236.5" r="2" fill="#6ea2f7"/>
<circle cx="695.7" cy="240.1" r="2" fill="#6ea2f7"/>
<circle cx="699.6" cy="242" r="2" fill="#6ea2f7"/>
<circle cx="703.5" cy="242.4" r="2" fill="#6ea2f7"/>
<circle cx="707.4" cy="241.6" r="2" fill="#6ea2f7"/>
<circle cx="711.1" cy="238.1" r="2" fill="#6ea2f7"/>
<circle cx="715.1" cy="235.8" r="2" fill="#6ea2f7"/>
<circle cx="719" cy="234.6" r="2" fill="#6ea2f7"/>
<circle cx="722.9" cy="240.5" r="2" fill="#6ea2f7"/>
<circle cx="726.8" cy="246.7" r="2" fill="#6ea2f7"/>
<circle cx="730.5" cy="242.4" r="2" fill="#6ea2f7"/>
<circle cx="734.4" cy="233" r="2" fill="#6ea2f7"/>
<circle cx="738.3" cy="236.2" r="2" fill="#6ea2f7"/>
<circle cx="742.1" cy="242.8" r="2" fill="#6ea2f7"/>
<circle cx="746" cy="243.6" r="2" fill="#6ea2f7"/>
<circle cx="749.9" cy="247.3" r="2" fill="#6ea2f7"/>
<circle cx="753.6" cy="254.5" r="2" fill="#6ea2f7"/>
<circle cx="757.5" cy="256.9" r="2" fill="#6ea2f7"/>
<circle cx="761.4" cy="252.8" r="2" fill="#6ea2f7"/>
<circle cx="765.4" cy="247.5" r="2" fill="#6ea2f7"/>
<circle cx="769.1" cy="246.7" r="2" fill="#6ea2f7"/>
<circle cx="773" cy="251.2" r="2" fill="#6ea2f7"/>
<circle cx="776.9" cy="250.6" r="2" fill="#6ea2f7"/>
<circle cx="780.8" cy="239.5" r="2" fill="#6ea2f7"/>
<circle cx="784.7" cy="231.5" r="2" fill="#6ea2f7"/>
<circle cx="788.6" cy="230.7" r="2" fill="#6ea2f7"/>
<circle cx="792.6" cy="227.3" r="2" fill="#6ea2f7"/>
<circle cx="796.6" cy="225.8" r="2" fill="#6ea2f7"/>
<circle cx="800.3" cy="225.8" r="2" fill="#6ea2f7"/>
<circle cx="804.2" cy="223.4" r="2" fill="#6ea2f7"/>
<circle cx="807.9" cy="224.8" r="2" fill="#6ea2f7"/>
<circle cx="811.8" cy="230.7" r="2" fill="#6ea2f7"/>
<circle cx="815.7" cy="228.7" r="2" fill="#6ea2f7"/>
<circle cx="819.7" cy="227.2" r="2" fill="#6ea2f7"/>
<circle cx="823.4" cy="224.8" r="2" fill="#6ea2f7"/>
<circle cx="827.3" cy="219.9" r="2" fill="#6ea2f7"/>
<circle cx="831.2" cy="227.3" r="2" fill="#6ea2f7"/>
<circle cx="834.9" cy="234.6" r="2" fill="#6ea2f7"/>
<circle cx="838.8" cy="237.9" r="2" fill="#6ea2f7"/>
<circle cx="842.7" cy="237.1" r="2" fill="#6ea2f7"/>
<circle cx="846.7" cy="234.6" r="2" fill="#6ea2f7"/>
<circle cx="850.6" cy="233.2" r="2" fill="#6ea2f7"/>
<circle cx="854.3" cy="233.2" r="2" fill="#6ea2f7"/>
<circle cx="858.2" cy="233.2" r="2" fill="#6ea2f7"/>
<circle cx="862.1" cy="232.6" r="2" fill="#6ea2f7"/>
<circle cx="865.8" cy="238.9" r="2" fill="#6ea2f7"/>
<circle cx="869.8" cy="243.4" r="2" fill="#6ea2f7"/>
<circle cx="873.7" cy="240.5" r="2" fill="#6ea2f7"/>
<circle cx="877.4" cy="235" r="2" fill="#6ea2f7"/>
<circle cx="881.3" cy="236.2" r="2" fill="#6ea2f7"/>
<circle cx="885.2" cy="241" r="2" fill="#6ea2f7"/>
<circle cx="889.1" cy="237.5" r="2" fill="#6ea2f7"/>
<circle cx="892.8" cy="235.2" r="2" fill="#6ea2f7"/>
<circle cx="896.8" cy="236.5" r="2" fill="#6ea2f7"/>
<circle cx="900.7" cy="238.5" r="2" fill="#6ea2f7"/>
<circle cx="904.6" cy="239.7" r="2" fill="#6ea2f7"/>
<circle cx="908.5" cy="241" r="2" fill="#6ea2f7"/>
<circle cx="912.2" cy="236.9" r="2" fill="#6ea2f7"/>
<circle cx="916.1" cy="236.2" r="2" fill="#6ea2f7"/>
<circle cx="920" cy="236.5" r="2" fill="#6ea2f7"/>
<circle cx="924" cy="235" r="2" fill="#6ea2f7"/>
<circle cx="927.7" cy="239.7" r="2" fill="#6ea2f7"/>
<circle cx="931.6" cy="233.6" r="2" fill="#6ea2f7"/>
<circle cx="935.5" cy="228.7" r="2" fill="#6ea2f7"/>
<circle cx="939.2" cy="232.6" r="2" fill="#6ea2f7"/>
<circle cx="943.1" cy="233" r="2" fill="#6ea2f7"/>
<circle cx="947.1" cy="236.2" r="2" fill="#6ea2f7"/>
<circle cx="951" cy="234.2" r="2" fill="#6ea2f7"/>
<circle cx="954.7" cy="235.8" r="2" fill="#6ea2f7"/>
<circle cx="958.6" cy="241.8" r="2" fill="#6ea2f7"/>
<circle cx="962.5" cy="241.8" r="2" fill="#6ea2f7"/>
<circle cx="966.2" cy="236.9" r="2" fill="#6ea2f7"/>
<circle cx="970.1" cy="234.6" r="2" fill="#6ea2f7"/>
<circle cx="974.1" cy="235" r="2" fill="#6ea2f7"/>
<circle cx="978" cy="236.5" r="2" fill="#6ea2f7"/>
<circle cx="981.7" cy="240.5" r="2" fill="#6ea2f7"/>
<circle cx="985.6" cy="239.5" r="2" fill="#6ea2f7"/>
<circle cx="989.5" cy="236.9" r="2" fill="#6ea2f7"/>
<circle cx="993.4" cy="237.7" r="2" fill="#6ea2f7"/>
<circle cx="997.2" cy="240.5" r="2" fill="#6ea2f7"/>
<circle cx="1001.1" cy="242.4" r="2" fill="#6ea2f7"/>
<circle cx="1005" cy="239.5" r="2" fill="#6ea2f7"/>
<circle cx="1008.9" cy="236.9" r="2" fill="#6ea2f7"/>
<circle cx="1012.6" cy="240.5" r="2" fill="#6ea2f7"/>
<circle cx="1016.5" cy="241" r="2" fill="#6ea2f7"/>
<circle cx="1020.4" cy="236.2" r="2" fill="#6ea2f7"/>
<circle cx="1024.4" cy="235" r="2" fill="#6ea2f7"/>
<circle cx="1028.3" cy="237.9" r="2" fill="#6ea2f7"/>
<circle cx="1032.2" cy="242.8" r="2" fill="#6ea2f7"/>
<rect x="559.2" y="317" width="13" height="3.5" rx="1.75" fill="#6ea2f7"/>
<text x="585.3" y="322.2" font-size="12" fill="#ccccdc" text-anchor="start" font-weight="400" textLength="32.5" lengthAdjust="spacingAndGlyphs" stroke="#ccccdc" stroke-width="0.3">logins</text>
<rect x="633.7" y="317" width="13" height="3.5" rx="1.75" fill="#c37fe6"/>
<text x="660.2" y="322.2" font-size="12" fill="#ccccdc" text-anchor="start" font-weight="400" textLength="82.8" lengthAdjust="spacingAndGlyphs" stroke="#ccccdc" stroke-width="0.3">logins (-1 hour)</text>
<circle cx="951.9" cy="108.3" r="5" fill="none" stroke="#33a2e5" stroke-width="1.3"/><path d="M951.9,105.3 V108.5 H949.8" fill="none" stroke="#33a2e5" stroke-width="1.2"/>
<text x="961.8" y="111.5" font-size="12" fill="#33a2e5" text-anchor="start" font-weight="400" textLength="88.5" lengthAdjust="spacingAndGlyphs" stroke="#33a2e5" stroke-width="0.5">Last 20 minutes</text>
<path d="M1147.43,211.68 A49.55,49.55 0 1 1 1241.57,211.68" fill="none" stroke="#222327" stroke-width="16.3"/>
<path d="M1147.43,211.68 A49.55,49.55 0 0 1 1173.56,151.29" fill="none" stroke="#6aa85a" stroke-width="16.3"/>
<path d="M1136.93,215.13 A60.6,60.6 0 0 1 1229.60,146.80" fill="none" stroke="#6ab05c" stroke-width="1.7"/>
<path d="M1229.60,146.80 A60.6,60.6 0 0 1 1254.97,192.29" fill="none" stroke="#e58b22" stroke-width="1.7"/>
<path d="M1254.97,192.29 A60.6,60.6 0 0 1 1252.07,215.13" fill="none" stroke="#e0303c" stroke-width="1.7"/>
<text x="1194.2" y="209.7" font-size="21.5" fill="#6aad5c" text-anchor="middle" font-weight="400" textLength="53.09999999999991" lengthAdjust="spacingAndGlyphs" stroke="#6aad5c" stroke-width="0.9">114 B</text>
<path d="M1412.58,208.30 A46.95,46.95 0 1 1 1501.62,208.30" fill="none" stroke="#222327" stroke-width="16.7"/>
<path d="M1412.58,208.30 A46.95,46.95 0 0 1 1414.11,174.53" fill="none" stroke="#6aa85a" stroke-width="16.7"/>
<path d="M1402.29,211.74 A57.8,57.8 0 0 1 1490.25,146.05" fill="none" stroke="#6ab05c" stroke-width="1.7"/>
<path d="M1490.25,146.05 A57.8,57.8 0 0 1 1514.74,189.17" fill="none" stroke="#e58b22" stroke-width="1.7"/>
<path d="M1514.74,189.17 A57.8,57.8 0 0 1 1511.91,211.74" fill="none" stroke="#e0303c" stroke-width="1.7"/>
<text x="1456.7" y="210.5" font-size="28" fill="#6aad5c" text-anchor="middle" font-weight="400" textLength="44.59999999999991" lengthAdjust="spacingAndGlyphs" stroke="#6aad5c" stroke-width="0.9">57.1</text>
<clipPath id="cps"><rect x="1068" y="237" width="1516" height="99"/></clipPath>
<g clip-path="url(#cps)">
<polygon points="1068.6,336 1068.6,313.8 1071,314.4 1074.2,312.5 1079.7,318.1 1082.9,314.9 1085.3,302.1 1088.5,317.3 1090.9,312.5 1094.1,314.1 1096.5,317.3 1099.7,313.8 1102.1,316 1105.2,310.1 1110,318.9 1113.2,313.8 1116.4,317.6 1119.3,309 1124.4,321.7 1129.9,312.8 1135.5,322.9 1141.1,313.8 1146.7,322.4 1149.9,315.7 1153.1,314.1 1156.2,310.1 1159.4,311.2 1162.6,313.8 1166.6,312.2 1170.6,312.2 1173,318.1 1175.4,311.7 1178.6,317.3 1180.9,318.1 1184.1,312.5 1186.5,316.5 1189.7,310.1 1194.5,310.1 1200.1,314.9 1204.1,312.2 1208,309.3 1212,315.7 1215.2,308.5 1220,311.7 1224,315.4 1227.2,312.2 1232.7,321.7 1235.1,318.9 1237.5,326.8 1243.1,313.3 1246.3,320.8 1251.1,317.3 1256.6,335.6 1262.2,302.1 1265.4,306.1 1268.6,306.1 1271.8,312.5 1274.2,307.7 1276.6,318.1 1279.7,310.1 1282.1,316.5 1284.5,314.1 1288.5,317.3 1293.3,317.6 1296.5,314.9 1300.5,318.9 1304.5,312.5 1307.6,323.3 1310,323.3 1313.2,315.7 1318.8,318.9 1318.8,336" fill="#4a2327"/>
<polyline points="1068.6,313.8 1071,314.4 1074.2,312.5 1079.7,318.1 1082.9,314.9 1085.3,302.1 1088.5,317.3 1090.9,312.5 1094.1,314.1 1096.5,317.3 1099.7,313.8 1102.1,316 1105.2,310.1 1110,318.9 1113.2,313.8 1116.4,317.6 1119.3,309 1124.4,321.7 1129.9,312.8 1135.5,322.9 1141.1,313.8 1146.7,322.4 1149.9,315.7 1153.1,314.1 1156.2,310.1 1159.4,311.2 1162.6,313.8 1166.6,312.2 1170.6,312.2 1173,318.1 1175.4,311.7 1178.6,317.3 1180.9,318.1 1184.1,312.5 1186.5,316.5 1189.7,310.1 1194.5,310.1 1200.1,314.9 1204.1,312.2 1208,309.3 1212,315.7 1215.2,308.5 1220,311.7 1224,315.4 1227.2,312.2 1232.7,321.7 1235.1,318.9 1237.5,326.8 1243.1,313.3 1246.3,320.8 1251.1,317.3 1256.6,335.6 1262.2,302.1 1265.4,306.1 1268.6,306.1 1271.8,312.5 1274.2,307.7 1276.6,318.1 1279.7,310.1 1282.1,316.5 1284.5,314.1 1288.5,317.3 1293.3,317.6 1296.5,314.9 1300.5,318.9 1304.5,312.5 1307.6,323.3 1310,323.3 1313.2,315.7 1318.8,318.9" fill="none" stroke="#e8363f" stroke-width="1.3" stroke-linejoin="round"/>
<polygon points="1331.3,336 1331.3,323.6 1337.2,315.7 1342.7,320.5 1348.3,311.2 1351.5,314.9 1357.1,312.2 1359.5,318.9 1362.7,316.5 1365.4,327.2 1368.2,318.1 1370.6,315.7 1373.3,322.1 1381.8,310.9 1385,320.1 1389.8,320.5 1393.4,317 1400.1,321.3 1401.7,324.4 1404.6,314.1 1407.3,324.4 1412.9,314.1 1418.4,309 1421.6,318.5 1424.8,312.2 1427.2,317 1430.1,313.3 1435.2,322.9 1440.8,316.5 1443.9,319.2 1447.1,316.5 1451.1,318.1 1457.5,315.7 1462.3,314.9 1463.9,318.9 1467.1,316.5 1469.4,309.3 1473.4,317.3 1477.4,314.1 1481.4,317 1484.6,317.6 1488.6,314.1 1492.5,318.1 1494.9,323.3 1497.3,318.1 1500.5,324.4 1505.3,324 1508.5,315.7 1511.7,321.3 1514.9,322.1 1517.3,335.6 1520.4,330.8 1522.8,332.4 1528.4,302.1 1531.6,306.1 1534.8,311.7 1537.2,309.3 1539.6,322.9 1542.7,318.9 1546.7,320.5 1551.5,317.3 1559.5,322.9 1562.7,318.1 1565.1,318.9 1567.5,314.4 1570.6,325.2 1573.8,318.9 1576.2,318.9 1578.6,322.1 1581.8,317.3 1581.8,336" fill="#233826"/>
<polyline points="1331.3,323.6 1337.2,315.7 1342.7,320.5 1348.3,311.2 1351.5,314.9 1357.1,312.2 1359.5,318.9 1362.7,316.5 1365.4,327.2 1368.2,318.1 1370.6,315.7 1373.3,322.1 1381.8,310.9 1385,320.1 1389.8,320.5 1393.4,317 1400.1,321.3 1401.7,324.4 1404.6,314.1 1407.3,324.4 1412.9,314.1 1418.4,309 1421.6,318.5 1424.8,312.2 1427.2,317 1430.1,313.3 1435.2,322.9 1440.8,316.5 1443.9,319.2 1447.1,316.5 1451.1,318.1 1457.5,315.7 1462.3,314.9 1463.9,318.9 1467.1,316.5 1469.4,309.3 1473.4,317.3 1477.4,314.1 1481.4,317 1484.6,317.6 1488.6,314.1 1492.5,318.1 1494.9,323.3 1497.3,318.1 1500.5,324.4 1505.3,324 1508.5,315.7 1511.7,321.3 1514.9,322.1 1517.3,335.6 1520.4,330.8 1522.8,332.4 1528.4,302.1 1531.6,306.1 1534.8,311.7 1537.2,309.3 1539.6,322.9 1542.7,318.9 1546.7,320.5 1551.5,317.3 1559.5,322.9 1562.7,318.1 1565.1,318.9 1567.5,314.4 1570.6,325.2 1573.8,318.9 1576.2,318.9 1578.6,322.1 1581.8,317.3" fill="none" stroke="#3ab53a" stroke-width="1.3" stroke-linejoin="round"/>
</g>
<text x="1194.1" y="309.3" font-size="21" fill="#e8363f" text-anchor="middle" font-weight="400" textLength="47" lengthAdjust="spacingAndGlyphs" stroke="#e8363f" stroke-width="0.5">84.9</text>
<text x="1457" y="309.6" font-size="21" fill="#3ab53a" text-anchor="middle" font-weight="400" textLength="40" lengthAdjust="spacingAndGlyphs" stroke="#3ab53a" stroke-width="0.5">283</text>
<line x1="49.7" y1="569.5" x2="1033.9" y2="569.5" stroke="rgba(204,204,220,0.14)"/>
<text x="44" y="573.8" font-size="12" fill="#ccccdc" text-anchor="end" font-weight="400" stroke="#ccccdc" stroke-width="0.3">0</text>
<line x1="49.7" y1="510.8" x2="1033.9" y2="510.8" stroke="rgba(204,204,220,0.14)"/>
<text x="44" y="515.1" font-size="12" fill="#ccccdc" text-anchor="end" font-weight="400" stroke="#ccccdc" stroke-width="0.3">50</text>
<line x1="49.7" y1="452.1" x2="1033.9" y2="452.1" stroke="rgba(204,204,220,0.14)"/>
<text x="44" y="456.4" font-size="12" fill="#ccccdc" text-anchor="end" font-weight="400" stroke="#ccccdc" stroke-width="0.3">100</text>
<line x1="49.7" y1="393.4" x2="1033.9" y2="393.4" stroke="rgba(204,204,220,0.14)"/>
<text x="44" y="397.7" font-size="12" fill="#ccccdc" text-anchor="end" font-weight="400" stroke="#ccccdc" stroke-width="0.3">150</text>
<text x="53.5" y="587.7" font-size="12" fill="#ccccdc" text-anchor="middle" font-weight="400" stroke="#ccccdc" stroke-width="0.3">16:50</text>
<text x="135.5" y="587.7" font-size="12" fill="#ccccdc" text-anchor="middle" font-weight="400" stroke="#ccccdc" stroke-width="0.3">16:55</text>
<text x="217.5" y="587.7" font-size="12" fill="#ccccdc" text-anchor="middle" font-weight="400" stroke="#ccccdc" stroke-width="0.3">17:00</text>
<text x="299.5" y="587.7" font-size="12" fill="#ccccdc" text-anchor="middle" font-weight="400" stroke="#ccccdc" stroke-width="0.3">17:05</text>
<text x="381.5" y="587.7" font-size="12" fill="#ccccdc" text-anchor="middle" font-weight="400" stroke="#ccccdc" stroke-width="0.3">17:10</text>
<text x="463.5" y="587.7" font-size="12" fill="#ccccdc" text-anchor="middle" font-weight="400" stroke="#ccccdc" stroke-width="0.3">17:15</text>
<text x="545.5" y="587.7" font-size="12" fill="#ccccdc" text-anchor="middle" font-weight="400" stroke="#ccccdc" stroke-width="0.3">17:20</text>
<text x="627.5" y="587.7" font-size="12" fill="#ccccdc" text-anchor="middle" font-weight="400" stroke="#ccccdc" stroke-width="0.3">17:25</text>
<text x="709.5" y="587.7" font-size="12" fill="#ccccdc" text-anchor="middle" font-weight="400" stroke="#ccccdc" stroke-width="0.3">17:30</text>
<text x="791.5" y="587.7" font-size="12" fill="#ccccdc" text-anchor="middle" font-weight="400" stroke="#ccccdc" stroke-width="0.3">17:35</text>
<text x="873.5" y="587.7" font-size="12" fill="#ccccdc" text-anchor="middle" font-weight="400" stroke="#ccccdc" stroke-width="0.3">17:40</text>
<text x="955.5" y="587.7" font-size="12" fill="#ccccdc" text-anchor="middle" font-weight="400" stroke="#ccccdc" stroke-width="0.3">17:45</text>
<polygon points="50.7,441.7 50.7,441.7 54,436.7 57.8,432.4 61.5,431.6 64.1,431.6 67.8,425.4 71.6,427.9 75.4,431.6 80.4,430.4 82.9,429.1 86,424.8 89.2,429.1 91.8,443 94.3,440.5 98,434.2 100.6,435.4 103.1,440.5 106.9,436.7 110.6,437.9 114.4,436.7 119.4,437.9 123.2,441 127,432.9 129.5,430.4 133.3,435.4 137.1,434.2 140.8,432.9 145.9,440.5 150.9,436.7 157.2,436.7 161,431.6 164.8,434.2 168.5,436.7 173.6,432.9 179.1,414.8 183.6,430.4 186.2,436.7 191.2,429.1 196.2,431.6 201.3,433.4 206.3,434.2 211.3,431.6 215.1,430.4 220.2,440.5 225.2,429.1 230.2,432.4 234,434.2 237.8,437.9 244.1,439.2 247.8,442.5 252.9,435.4 255.4,432.9 258.7,439.2 264.2,432.9 266.3,431.6 272.6,439.2 278.9,435.4 285.2,432.4 290.2,441 294,434.2 299,435.4 305.3,427.9 310.4,430.4 316.6,435.4 325.5,440.5 331.8,443 338,436.7 344.3,437.9 350.6,435.4 356.9,435.4 362,431.6 368.3,444.2 373.3,439.2 380.8,440 388.4,443 396,430.4 401,437.9 409.8,448 417.4,440.5 424.9,430.4 429.9,435.4 436.2,431.6 441.3,433.4 447.6,429.1 455.1,430.4 460.2,434.2 465.2,434.2 474,430.4 481.6,432.9 487.8,431.6 492.9,428.6 497.9,434.9 503,430.9 505,430.4 511.3,432.9 517.6,441.7 522.7,439.2 529,437.9 535.2,435.4 540.3,433.4 544.1,436.7 549.1,432.9 554.1,434.2 560.4,429.9 564.2,432.9 568,434.2 575.5,433.4 580.6,429.1 585.6,430.9 589.4,427.9 594.4,431.6 598.2,428.4 603.2,436.7 608.3,429.9 615.8,430.4 620.8,433.4 627.1,436.7 633.4,432.9 639.7,432.4 644.8,427.9 651.1,426.6 654.8,424.8 658.6,429.9 666.2,433.4 671.2,436.7 676.2,429.1 682.5,431.6 687.6,431.6 693.9,430.4 700.2,435.4 707.7,431.6 714,432.4 720.3,426.6 726.6,439.2 730.4,442.5 736.7,429.1 741.7,432.9 747.6,444.2 753.8,440.5 760.1,435.4 763.9,441 770.2,440.5 776.5,437.9 781.5,432.4 786.6,439.2 792.9,432.9 799.2,441.7 805.5,440 810.5,435.4 815.5,444.2 819.3,437.9 824.3,431.6 829.4,444.2 834.4,460.6 838.2,466.9 842,461.9 845.7,456.8 850.8,458.1 855.8,448 863.4,417.8 867.1,419.1 873.4,417.8 881,417.3 888.5,419.1 892.3,421.6 898.1,436.7 904.9,425.4 907.4,422.8 913.7,432.9 920,443 923.8,441.7 927.6,435.4 931.3,437.9 936.4,434.9 946.4,441.7 954,437.4 960.3,439.2 967.8,430.4 975.4,439.2 981.7,441.7 989.2,436.7 994.3,435.4 999.3,444.2 1004.4,436.7 1010.6,441.7 1015.7,436.7 1019.5,441.7 1025.8,431.6 1032,436.7 1032.2,436.7 1032.2,470.7 1032,470.7 1024.5,466.9 1020.7,471.9 1016.9,470.7 1010.6,475.2 1003.1,469.4 996.8,475.7 991.8,465.6 981.7,474.4 976.7,470.7 971.6,470.7 965.3,466.9 960.3,466.9 955.3,469.4 946.4,473.7 935.1,468.2 931.3,471.9 925,469.4 918.8,474.4 913.7,468.2 906.2,459.3 898.6,470.2 892.3,461.9 888.5,458.1 881,455.1 872.2,456.8 864.6,454.3 857.1,471.9 850.8,490.8 845.7,484.5 840.7,489.6 836.9,492.1 833.2,483.3 824.3,466.9 819.3,468.2 815.5,478.2 810.5,469.4 805.5,471.9 800.4,474.4 792.9,468.2 786.6,471.9 780.3,468.2 775.2,474.4 770.2,473.2 763.9,475.2 760.1,466.9 753.8,473.2 748.8,477.7 741.7,471.9 736.7,461.9 731.6,473.7 726.6,471.9 720.3,461.9 714,470.7 707.7,465.6 700.2,470.7 693.9,465.6 687.6,464.4 682.5,466.9 676.2,463.1 671.2,469.4 666.2,469.4 658.6,465.6 654.8,460.6 651.1,461.9 644.8,461.9 639.7,468.2 633.4,464.4 627.1,471.9 620.8,466.9 615.8,465.6 608.3,466.9 603.2,470.2 598.2,464.4 594.4,468.2 589.4,461.9 585.6,469.4 580.6,464.4 575.5,468.2 568,469.4 564.2,469.4 560.4,464.4 554.1,468.2 549.1,466.9 544.1,471.2 540.3,465.6 535.2,470.7 529,469.4 522.7,471.9 517.6,477 511.3,470.7 505.5,463.1 499.2,469.4 492.9,463.1 487.8,468.2 481.6,469.4 476.5,466.1 469,466.9 461.4,468.2 455.1,466.9 446.3,463.9 438.8,469.4 433.7,466.1 428.7,471.9 423.6,463.6 416.1,474.4 409.8,479.5 401,471.9 396,462.6 388.4,477.7 383.4,474.4 375.8,471.9 368.3,477.7 362,469.4 356.9,469.4 349.4,466.9 343.1,473.2 338,469.4 330.5,475.7 320.4,471.9 312.9,468.2 306.6,461.9 300.3,470.7 295.2,466.9 290.7,473.2 285.2,466.9 278.9,468.2 272.6,471.9 265,464.4 263,463.1 257.9,471.9 253.6,464.4 250.4,470.7 245.3,475.7 241.6,470.7 235.3,469.4 230.2,466.9 225.2,464.4 220.2,474.4 213.9,464.4 208.8,466.9 203.8,468.2 198.8,466.9 193.7,460.6 188.7,466.9 184.1,470.7 179.1,450.5 173.6,466.9 166,468.2 161,464.4 156,469.4 148.4,471.9 143.4,470.7 138.3,468.2 133.3,469.4 128.3,466.9 125.7,470.7 120.7,471.9 116.9,471.4 113.2,472.7 106.9,470.7 103.1,471.9 98,466.9 95.5,470.7 91.8,478.2 89.2,466.9 86,463.9 81.7,464.4 76.6,465.6 71.6,464.4 67.8,460.6 62.8,465.6 59,466.9 55.2,468.2 50.7,474.4 50.7,474.4" fill="#143259"/>
<polygon points="50.7,474.4 50.7,474.4 55.2,468.2 59,466.9 62.8,465.6 67.8,460.6 71.6,464.4 76.6,465.6 81.7,464.4 86,463.9 89.2,466.9 91.8,478.2 95.5,470.7 98,466.9 103.1,471.9 106.9,470.7 113.2,472.7 116.9,471.4 120.7,471.9 125.7,470.7 128.3,466.9 133.3,469.4 138.3,468.2 143.4,470.7 148.4,471.9 156,469.4 161,464.4 166,468.2 173.6,466.9 179.1,450.5 184.1,470.7 188.7,466.9 193.7,460.6 198.8,466.9 203.8,468.2 208.8,466.9 213.9,464.4 220.2,474.4 225.2,464.4 230.2,466.9 235.3,469.4 241.6,470.7 245.3,475.7 250.4,470.7 253.6,464.4 257.9,471.9 263,463.1 265,464.4 272.6,471.9 278.9,468.2 285.2,466.9 290.7,473.2 295.2,466.9 300.3,470.7 306.6,461.9 312.9,468.2 320.4,471.9 330.5,475.7 338,469.4 343.1,473.2 349.4,466.9 356.9,469.4 362,469.4 368.3,477.7 375.8,471.9 383.4,474.4 388.4,477.7 396,462.6 401,471.9 409.8,479.5 416.1,474.4 423.6,463.6 428.7,471.9 433.7,466.1 438.8,469.4 446.3,463.9 455.1,466.9 461.4,468.2 469,466.9 476.5,466.1 481.6,469.4 487.8,468.2 492.9,463.1 499.2,469.4 505.5,463.1 511.3,470.7 517.6,477 522.7,471.9 529,469.4 535.2,470.7 540.3,465.6 544.1,471.2 549.1,466.9 554.1,468.2 560.4,464.4 564.2,469.4 568,469.4 575.5,468.2 580.6,464.4 585.6,469.4 589.4,461.9 594.4,468.2 598.2,464.4 603.2,470.2 608.3,466.9 615.8,465.6 620.8,466.9 627.1,471.9 633.4,464.4 639.7,468.2 644.8,461.9 651.1,461.9 654.8,460.6 658.6,465.6 666.2,469.4 671.2,469.4 676.2,463.1 682.5,466.9 687.6,464.4 693.9,465.6 700.2,470.7 707.7,465.6 714,470.7 720.3,461.9 726.6,471.9 731.6,473.7 736.7,461.9 741.7,471.9 748.8,477.7 753.8,473.2 760.1,466.9 763.9,475.2 770.2,473.2 775.2,474.4 780.3,468.2 786.6,471.9 792.9,468.2 800.4,474.4 805.5,471.9 810.5,469.4 815.5,478.2 819.3,468.2 824.3,466.9 833.2,483.3 836.9,492.1 840.7,489.6 845.7,484.5 850.8,490.8 857.1,471.9 864.6,454.3 872.2,456.8 881,455.1 888.5,458.1 892.3,461.9 898.6,470.2 906.2,459.3 913.7,468.2 918.8,474.4 925,469.4 931.3,471.9 935.1,468.2 946.4,473.7 955.3,469.4 960.3,466.9 965.3,466.9 971.6,470.7 976.7,470.7 981.7,474.4 991.8,465.6 996.8,475.7 1003.1,469.4 1010.6,475.2 1016.9,470.7 1020.7,471.9 1024.5,466.9 1032,470.7 1032.2,470.7 1032.2,504.7 1032,504.7 1027,499.6 1019.5,500.9 1010.6,505.9 1004.4,502.1 998.1,507.2 991.8,502.1 983,505.9 976.7,502.1 971.6,502.1 964.1,498.4 955.3,503.4 949,503.4 941.4,504.7 936.4,502.9 931.3,505.9 925,503.4 918.8,505.9 913.7,500.9 906.2,496.3 897.4,500.9 892.3,494.6 888.5,492.1 879.7,492.8 873.4,490.8 864.6,493.3 855.8,505.9 850.8,516 845.7,511 840.7,517.2 836.9,518.5 831.9,512.2 825.6,503.4 821.8,500.9 816.8,511 811.8,500.9 806.7,502.1 800.4,505.4 792.9,502.1 785.3,504.7 779,499.6 772.7,504.7 765.2,503.4 760.1,500.9 753.8,505.9 746.3,507.2 741.7,503.4 736.7,497.9 731.6,505.4 726.6,504.7 720.3,497.9 714,502.1 707.7,500.4 700.2,505.4 693.9,498.9 687.6,500.9 682.5,500.4 676.2,499.6 671.2,500.4 666.2,500.9 658.6,500.4 654.8,497.1 651.1,498.4 644.8,495.3 639.7,500.9 633.4,500.9 627.1,504.7 620.8,502.1 615.8,499.6 608.3,500.9 603.2,505.9 598.2,499.6 594.4,502.1 589.4,498.4 585.6,500.9 580.6,499.6 575.5,503.4 568,499.6 564.2,502.1 560.4,500.9 554.1,499.6 549.1,500.9 544.1,502.1 540.3,499.6 535.2,502.1 529,504.7 522.7,505.9 517.6,508.4 511.3,504.7 505.5,497.6 499.2,502.1 492.9,497.1 487.8,500.9 481.6,503.4 476.5,500.9 469,503.4 461.4,503.4 455.1,500.9 446.3,499.1 438.8,502.1 433.7,498.4 428.7,502.1 423.6,498.9 416.1,504.7 409.8,509.7 401,504.7 396,497.1 389.7,505.9 383.4,507.2 375.8,502.1 368.3,505.9 362,502.1 350.6,502.1 344.3,504.7 338,502.1 328,504.7 320.4,503.4 312.9,502.1 306.6,498.4 300.3,502.1 295.2,499.6 291.5,504.7 285.2,502.1 280.1,502.1 272.6,503.4 265,498.4 263,498.4 257.9,507.2 252.9,499.6 246.6,507.2 241.6,505.9 236.5,503.4 231.5,502.1 226.4,500.9 221.4,504.7 215.1,499.6 211.3,499.6 203.8,503.4 198.8,499.6 193.7,495.8 188.7,499.6 184.1,502.1 179.1,493.3 173.6,500.9 166,500.9 161,498.4 156,503.4 149.7,503.4 143.4,504.7 137.1,503.4 132,502.1 125.7,502.1 120.7,504.7 114.4,505.9 110.6,504.7 105.6,502.1 100.6,503.4 95.5,502.1 91.8,507.2 86.7,500.9 84.2,499.6 79.2,502.1 74.1,500.9 70.4,498.4 65.3,497.9 60.3,499.6 55.2,500.9 50.7,505.4 50.7,505.4" fill="#1f5283"/>
<polygon points="50.7,505.4 50.7,505.4 55.2,500.9 60.3,499.6 65.3,497.9 70.4,498.4 74.1,500.9 79.2,502.1 84.2,499.6 86.7,500.9 91.8,507.2 95.5,502.1 100.6,503.4 105.6,502.1 110.6,504.7 114.4,505.9 120.7,504.7 125.7,502.1 132,502.1 137.1,503.4 143.4,504.7 149.7,503.4 156,503.4 161,498.4 166,500.9 173.6,500.9 179.1,493.3 184.1,502.1 188.7,499.6 193.7,495.8 198.8,499.6 203.8,503.4 211.3,499.6 215.1,499.6 221.4,504.7 226.4,500.9 231.5,502.1 236.5,503.4 241.6,505.9 246.6,507.2 252.9,499.6 257.9,507.2 263,498.4 265,498.4 272.6,503.4 280.1,502.1 285.2,502.1 291.5,504.7 295.2,499.6 300.3,502.1 306.6,498.4 312.9,502.1 320.4,503.4 328,504.7 338,502.1 344.3,504.7 350.6,502.1 362,502.1 368.3,505.9 375.8,502.1 383.4,507.2 389.7,505.9 396,497.1 401,504.7 409.8,509.7 416.1,504.7 423.6,498.9 428.7,502.1 433.7,498.4 438.8,502.1 446.3,499.1 455.1,500.9 461.4,503.4 469,503.4 476.5,500.9 481.6,503.4 487.8,500.9 492.9,497.1 499.2,502.1 505.5,497.6 511.3,504.7 517.6,508.4 522.7,505.9 529,504.7 535.2,502.1 540.3,499.6 544.1,502.1 549.1,500.9 554.1,499.6 560.4,500.9 564.2,502.1 568,499.6 575.5,503.4 580.6,499.6 585.6,500.9 589.4,498.4 594.4,502.1 598.2,499.6 603.2,505.9 608.3,500.9 615.8,499.6 620.8,502.1 627.1,504.7 633.4,500.9 639.7,500.9 644.8,495.3 651.1,498.4 654.8,497.1 658.6,500.4 666.2,500.9 671.2,500.4 676.2,499.6 682.5,500.4 687.6,500.9 693.9,498.9 700.2,505.4 707.7,500.4 714,502.1 720.3,497.9 726.6,504.7 731.6,505.4 736.7,497.9 741.7,503.4 746.3,507.2 753.8,505.9 760.1,500.9 765.2,503.4 772.7,504.7 779,499.6 785.3,504.7 792.9,502.1 800.4,505.4 806.7,502.1 811.8,500.9 816.8,511 821.8,500.9 825.6,503.4 831.9,512.2 836.9,518.5 840.7,517.2 845.7,511 850.8,516 855.8,505.9 864.6,493.3 873.4,490.8 879.7,492.8 888.5,492.1 892.3,494.6 897.4,500.9 906.2,496.3 913.7,500.9 918.8,505.9 925,503.4 931.3,505.9 936.4,502.9 941.4,504.7 949,503.4 955.3,503.4 964.1,498.4 971.6,502.1 976.7,502.1 983,505.9 991.8,502.1 998.1,507.2 1004.4,502.1 1010.6,505.9 1019.5,500.9 1027,499.6 1032,504.7 1032.2,504.7 1032.2,538.1 1032,538.1 1024.5,534.9 1019.5,537.4 1013.2,535.6 1005.6,538.1 996.8,536.1 990.5,534.9 983,538.1 976.7,534.9 970.4,534.1 964.1,532.4 959,536.1 952.7,535.6 945.2,537.4 938.9,536.1 931.3,537.4 923.8,534.9 917.5,538.6 911.2,534.1 901.1,534.9 893.6,536.1 886,527.3 877.2,531.6 872.2,529.1 865.9,530.6 857.1,533.6 850.8,543.2 844.5,542.4 838.2,545.7 831.9,540.7 826.9,538.6 821.8,534.1 816.8,539.9 810.5,534.9 806.7,535.6 800.4,538.6 792.9,535.6 785.3,536.1 779,532.4 772.7,533.6 767.7,535.6 760.1,534.9 755.1,538.1 747.6,537.4 741.7,535.6 736.7,533.1 731.6,537.4 726.6,537.4 720.3,534.9 714,536.1 707.7,533.1 700.2,537.4 693.9,533.6 687.6,534.9 682.5,535.6 676.2,534.9 671.2,536.1 666.2,537.4 658.6,534.1 654.8,532.6 651.1,533.1 644.8,534.1 639.7,534.9 633.4,533.1 627.1,535.6 620.8,537.4 615.8,534.1 608.3,536.1 603.2,538.6 598.2,534.9 594.4,534.9 589.4,532.4 585.6,536.1 580.6,537.4 575.5,534.1 568,535.4 564.2,534.9 560.4,534.9 554.1,533.6 549.1,536.6 544.1,534.9 540.3,534.9 535.2,536.1 529,537.4 522.7,539.1 517.6,538.1 511.3,538.1 505,536.1 504.2,533.6 497.9,538.1 491.6,533.6 486.6,536.1 480.3,537.4 474,534.1 469,537.4 461.4,535.6 455.1,536.9 447.6,535.6 438.8,536.9 433.7,533.1 428.7,536.6 422.4,534.1 414.8,537.4 408.5,539.4 401,537.4 396,533.6 383.4,538.6 375.8,536.1 368.3,538.6 363.2,534.9 356.9,536.9 350.6,535.6 344.3,536.1 336.8,534.9 330.5,539.1 322.9,537.4 316.6,535.6 310.4,536.9 304.1,534.4 297.8,535.6 291.5,537.4 285.2,534.9 278.9,536.1 272.6,534.9 266.3,536.1 264.2,534.9 259.2,536.1 254.1,534.9 249.1,538.1 244.1,538.1 239,534.4 235.3,536.1 229,533.1 223.9,535.6 218.9,537.4 211.3,535.6 203.8,535.6 197.5,534.9 192.5,532.4 186.2,536.1 181.1,534.4 176.1,531.1 169.8,533.1 163.5,534.9 158.5,532.4 150.9,535.6 144.6,537.4 138.3,535.6 130.8,534.9 125.7,536.1 119.4,537.4 114.4,537.4 109.4,536.9 105.6,532.4 100.6,537.4 95.5,535.6 90.5,537.4 85.5,534.9 80.4,534.4 72.9,536.1 67.8,532.4 62.8,533.6 57.8,534.9 50.7,537.4 50.7,537.4" fill="#3e6489"/>
<polygon points="50.7,537.4 50.7,537.4 57.8,534.9 62.8,533.6 67.8,532.4 72.9,536.1 80.4,534.4 85.5,534.9 90.5,537.4 95.5,535.6 100.6,537.4 105.6,532.4 109.4,536.9 114.4,537.4 119.4,537.4 125.7,536.1 130.8,534.9 138.3,535.6 144.6,537.4 150.9,535.6 158.5,532.4 163.5,534.9 169.8,533.1 176.1,531.1 181.1,534.4 186.2,536.1 192.5,532.4 197.5,534.9 203.8,535.6 211.3,535.6 218.9,537.4 223.9,535.6 229,533.1 235.3,536.1 239,534.4 244.1,538.1 249.1,538.1 254.1,534.9 259.2,536.1 264.2,534.9 266.3,536.1 272.6,534.9 278.9,536.1 285.2,534.9 291.5,537.4 297.8,535.6 304.1,534.4 310.4,536.9 316.6,535.6 322.9,537.4 330.5,539.1 336.8,534.9 344.3,536.1 350.6,535.6 356.9,536.9 363.2,534.9 368.3,538.6 375.8,536.1 383.4,538.6 396,533.6 401,537.4 408.5,539.4 414.8,537.4 422.4,534.1 428.7,536.6 433.7,533.1 438.8,536.9 447.6,535.6 455.1,536.9 461.4,535.6 469,537.4 474,534.1 480.3,537.4 486.6,536.1 491.6,533.6 497.9,538.1 504.2,533.6 505,536.1 511.3,538.1 517.6,538.1 522.7,539.1 529,537.4 535.2,536.1 540.3,534.9 544.1,534.9 549.1,536.6 554.1,533.6 560.4,534.9 564.2,534.9 568,535.4 575.5,534.1 580.6,537.4 585.6,536.1 589.4,532.4 594.4,534.9 598.2,534.9 603.2,538.6 608.3,536.1 615.8,534.1 620.8,537.4 627.1,535.6 633.4,533.1 639.7,534.9 644.8,534.1 651.1,533.1 654.8,532.6 658.6,534.1 666.2,537.4 671.2,536.1 676.2,534.9 682.5,535.6 687.6,534.9 693.9,533.6 700.2,537.4 707.7,533.1 714,536.1 720.3,534.9 726.6,537.4 731.6,537.4 736.7,533.1 741.7,535.6 747.6,537.4 755.1,538.1 760.1,534.9 767.7,535.6 772.7,533.6 779,532.4 785.3,536.1 792.9,535.6 800.4,538.6 806.7,535.6 810.5,534.9 816.8,539.9 821.8,534.1 826.9,538.6 831.9,540.7 838.2,545.7 844.5,542.4 850.8,543.2 857.1,533.6 865.9,530.6 872.2,529.1 877.2,531.6 886,527.3 893.6,536.1 901.1,534.9 911.2,534.1 917.5,538.6 923.8,534.9 931.3,537.4 938.9,536.1 945.2,537.4 952.7,535.6 959,536.1 964.1,532.4 970.4,534.1 976.7,534.9 983,538.1 990.5,534.9 996.8,536.1 1005.6,538.1 1013.2,535.6 1019.5,537.4 1024.5,534.9 1032,538.1 1032.2,538.1 1032.2,569.5 50.7,569.5" fill="#7990a0"/>
<line x1="53.5" y1="393.4" x2="53.5" y2="569.5" stroke="rgba(204,204,220,0.16)"/>
<line x1="135.5" y1="393.4" x2="135.5" y2="569.5" stroke="rgba(204,204,220,0.16)"/>
<line x1="217.5" y1="393.4" x2="217.5" y2="569.5" stroke="rgba(204,204,220,0.16)"/>
<line x1="299.5" y1="393.4" x2="299.5" y2="569.5" stroke="rgba(204,204,220,0.16)"/>
<line x1="381.5" y1="393.4" x2="381.5" y2="569.5" stroke="rgba(204,204,220,0.16)"/>
<line x1="463.5" y1="393.4" x2="463.5" y2="569.5" stroke="rgba(204,204,220,0.16)"/>
<line x1="545.5" y1="393.4" x2="545.5" y2="569.5" stroke="rgba(204,204,220,0.16)"/>
<line x1="627.5" y1="393.4" x2="627.5" y2="569.5" stroke="rgba(204,204,220,0.16)"/>
<line x1="709.5" y1="393.4" x2="709.5" y2="569.5" stroke="rgba(204,204,220,0.16)"/>
<line x1="791.5" y1="393.4" x2="791.5" y2="569.5" stroke="rgba(204,204,220,0.16)"/>
<line x1="873.5" y1="393.4" x2="873.5" y2="569.5" stroke="rgba(204,204,220,0.16)"/>
<line x1="955.5" y1="393.4" x2="955.5" y2="569.5" stroke="rgba(204,204,220,0.16)"/>
<line x1="49.7" y1="569.5" x2="1033.9" y2="569.5" stroke="rgba(204,204,220,0.10)"/>
<line x1="49.7" y1="510.8" x2="1033.9" y2="510.8" stroke="rgba(204,204,220,0.10)"/>
<line x1="49.7" y1="452.1" x2="1033.9" y2="452.1" stroke="rgba(204,204,220,0.10)"/>
<line x1="49.7" y1="393.4" x2="1033.9" y2="393.4" stroke="rgba(204,204,220,0.10)"/>
<polyline points="50.7,441.7 50.7,441.7 54,436.7 57.8,432.4 61.5,431.6 64.1,431.6 67.8,425.4 71.6,427.9 75.4,431.6 80.4,430.4 82.9,429.1 86,424.8 89.2,429.1 91.8,443 94.3,440.5 98,434.2 100.6,435.4 103.1,440.5 106.9,436.7 110.6,437.9 114.4,436.7 119.4,437.9 123.2,441 127,432.9 129.5,430.4 133.3,435.4 137.1,434.2 140.8,432.9 145.9,440.5 150.9,436.7 157.2,436.7 161,431.6 164.8,434.2 168.5,436.7 173.6,432.9 179.1,414.8 183.6,430.4 186.2,436.7 191.2,429.1 196.2,431.6 201.3,433.4 206.3,434.2 211.3,431.6 215.1,430.4 220.2,440.5 225.2,429.1 230.2,432.4 234,434.2 237.8,437.9 244.1,439.2 247.8,442.5 252.9,435.4 255.4,432.9 258.7,439.2 264.2,432.9 266.3,431.6 272.6,439.2 278.9,435.4 285.2,432.4 290.2,441 294,434.2 299,435.4 305.3,427.9 310.4,430.4 316.6,435.4 325.5,440.5 331.8,443 338,436.7 344.3,437.9 350.6,435.4 356.9,435.4 362,431.6 368.3,444.2 373.3,439.2 380.8,440 388.4,443 396,430.4 401,437.9 409.8,448 417.4,440.5 424.9,430.4 429.9,435.4 436.2,431.6 441.3,433.4 447.6,429.1 455.1,430.4 460.2,434.2 465.2,434.2 474,430.4 481.6,432.9 487.8,431.6 492.9,428.6 497.9,434.9 503,430.9 505,430.4 511.3,432.9 517.6,441.7 522.7,439.2 529,437.9 535.2,435.4 540.3,433.4 544.1,436.7 549.1,432.9 554.1,434.2 560.4,429.9 564.2,432.9 568,434.2 575.5,433.4 580.6,429.1 585.6,430.9 589.4,427.9 594.4,431.6 598.2,428.4 603.2,436.7 608.3,429.9 615.8,430.4 620.8,433.4 627.1,436.7 633.4,432.9 639.7,432.4 644.8,427.9 651.1,426.6 654.8,424.8 658.6,429.9 666.2,433.4 671.2,436.7 676.2,429.1 682.5,431.6 687.6,431.6 693.9,430.4 700.2,435.4 707.7,431.6 714,432.4 720.3,426.6 726.6,439.2 730.4,442.5 736.7,429.1 741.7,432.9 747.6,444.2 753.8,440.5 760.1,435.4 763.9,441 770.2,440.5 776.5,437.9 781.5,432.4 786.6,439.2 792.9,432.9 799.2,441.7 805.5,440 810.5,435.4 815.5,444.2 819.3,437.9 824.3,431.6 829.4,444.2 834.4,460.6 838.2,466.9 842,461.9 845.7,456.8 850.8,458.1 855.8,448 863.4,417.8 867.1,419.1 873.4,417.8 881,417.3 888.5,419.1 892.3,421.6 898.1,436.7 904.9,425.4 907.4,422.8 913.7,432.9 920,443 923.8,441.7 927.6,435.4 931.3,437.9 936.4,434.9 946.4,441.7 954,437.4 960.3,439.2 967.8,430.4 975.4,439.2 981.7,441.7 989.2,436.7 994.3,435.4 999.3,444.2 1004.4,436.7 1010.6,441.7 1015.7,436.7 1019.5,441.7 1025.8,431.6 1032,436.7 1032.2,436.7" fill="none" stroke="#1d5490" stroke-width="1.4" stroke-linejoin="round"/>
<polyline points="50.7,474.4 50.7,474.4 55.2,468.2 59,466.9 62.8,465.6 67.8,460.6 71.6,464.4 76.6,465.6 81.7,464.4 86,463.9 89.2,466.9 91.8,478.2 95.5,470.7 98,466.9 103.1,471.9 106.9,470.7 113.2,472.7 116.9,471.4 120.7,471.9 125.7,470.7 128.3,466.9 133.3,469.4 138.3,468.2 143.4,470.7 148.4,471.9 156,469.4 161,464.4 166,468.2 173.6,466.9 179.1,450.5 184.1,470.7 188.7,466.9 193.7,460.6 198.8,466.9 203.8,468.2 208.8,466.9 213.9,464.4 220.2,474.4 225.2,464.4 230.2,466.9 235.3,469.4 241.6,470.7 245.3,475.7 250.4,470.7 253.6,464.4 257.9,471.9 263,463.1 265,464.4 272.6,471.9 278.9,468.2 285.2,466.9 290.7,473.2 295.2,466.9 300.3,470.7 306.6,461.9 312.9,468.2 320.4,471.9 330.5,475.7 338,469.4 343.1,473.2 349.4,466.9 356.9,469.4 362,469.4 368.3,477.7 375.8,471.9 383.4,474.4 388.4,477.7 396,462.6 401,471.9 409.8,479.5 416.1,474.4 423.6,463.6 428.7,471.9 433.7,466.1 438.8,469.4 446.3,463.9 455.1,466.9 461.4,468.2 469,466.9 476.5,466.1 481.6,469.4 487.8,468.2 492.9,463.1 499.2,469.4 505.5,463.1 511.3,470.7 517.6,477 522.7,471.9 529,469.4 535.2,470.7 540.3,465.6 544.1,471.2 549.1,466.9 554.1,468.2 560.4,464.4 564.2,469.4 568,469.4 575.5,468.2 580.6,464.4 585.6,469.4 589.4,461.9 594.4,468.2 598.2,464.4 603.2,470.2 608.3,466.9 615.8,465.6 620.8,466.9 627.1,471.9 633.4,464.4 639.7,468.2 644.8,461.9 651.1,461.9 654.8,460.6 658.6,465.6 666.2,469.4 671.2,469.4 676.2,463.1 682.5,466.9 687.6,464.4 693.9,465.6 700.2,470.7 707.7,465.6 714,470.7 720.3,461.9 726.6,471.9 731.6,473.7 736.7,461.9 741.7,471.9 748.8,477.7 753.8,473.2 760.1,466.9 763.9,475.2 770.2,473.2 775.2,474.4 780.3,468.2 786.6,471.9 792.9,468.2 800.4,474.4 805.5,471.9 810.5,469.4 815.5,478.2 819.3,468.2 824.3,466.9 833.2,483.3 836.9,492.1 840.7,489.6 845.7,484.5 850.8,490.8 857.1,471.9 864.6,454.3 872.2,456.8 881,455.1 888.5,458.1 892.3,461.9 898.6,470.2 906.2,459.3 913.7,468.2 918.8,474.4 925,469.4 931.3,471.9 935.1,468.2 946.4,473.7 955.3,469.4 960.3,466.9 965.3,466.9 971.6,470.7 976.7,470.7 981.7,474.4 991.8,465.6 996.8,475.7 1003.1,469.4 1010.6,475.2 1016.9,470.7 1020.7,471.9 1024.5,466.9 1032,470.7 1032.2,470.7" fill="none" stroke="#3a86d0" stroke-width="1.5" stroke-linejoin="round"/>
<polyline points="50.7,505.4 50.7,505.4 55.2,500.9 60.3,499.6 65.3,497.9 70.4,498.4 74.1,500.9 79.2,502.1 84.2,499.6 86.7,500.9 91.8,507.2 95.5,502.1 100.6,503.4 105.6,502.1 110.6,504.7 114.4,505.9 120.7,504.7 125.7,502.1 132,502.1 137.1,503.4 143.4,504.7 149.7,503.4 156,503.4 161,498.4 166,500.9 173.6,500.9 179.1,493.3 184.1,502.1 188.7,499.6 193.7,495.8 198.8,499.6 203.8,503.4 211.3,499.6 215.1,499.6 221.4,504.7 226.4,500.9 231.5,502.1 236.5,503.4 241.6,505.9 246.6,507.2 252.9,499.6 257.9,507.2 263,498.4 265,498.4 272.6,503.4 280.1,502.1 285.2,502.1 291.5,504.7 295.2,499.6 300.3,502.1 306.6,498.4 312.9,502.1 320.4,503.4 328,504.7 338,502.1 344.3,504.7 350.6,502.1 362,502.1 368.3,505.9 375.8,502.1 383.4,507.2 389.7,505.9 396,497.1 401,504.7 409.8,509.7 416.1,504.7 423.6,498.9 428.7,502.1 433.7,498.4 438.8,502.1 446.3,499.1 455.1,500.9 461.4,503.4 469,503.4 476.5,500.9 481.6,503.4 487.8,500.9 492.9,497.1 499.2,502.1 505.5,497.6 511.3,504.7 517.6,508.4 522.7,505.9 529,504.7 535.2,502.1 540.3,499.6 544.1,502.1 549.1,500.9 554.1,499.6 560.4,500.9 564.2,502.1 568,499.6 575.5,503.4 580.6,499.6 585.6,500.9 589.4,498.4 594.4,502.1 598.2,499.6 603.2,505.9 608.3,500.9 615.8,499.6 620.8,502.1 627.1,504.7 633.4,500.9 639.7,500.9 644.8,495.3 651.1,498.4 654.8,497.1 658.6,500.4 666.2,500.9 671.2,500.4 676.2,499.6 682.5,500.4 687.6,500.9 693.9,498.9 700.2,505.4 707.7,500.4 714,502.1 720.3,497.9 726.6,504.7 731.6,505.4 736.7,497.9 741.7,503.4 746.3,507.2 753.8,505.9 760.1,500.9 765.2,503.4 772.7,504.7 779,499.6 785.3,504.7 792.9,502.1 800.4,505.4 806.7,502.1 811.8,500.9 816.8,511 821.8,500.9 825.6,503.4 831.9,512.2 836.9,518.5 840.7,517.2 845.7,511 850.8,516 855.8,505.9 864.6,493.3 873.4,490.8 879.7,492.8 888.5,492.1 892.3,494.6 897.4,500.9 906.2,496.3 913.7,500.9 918.8,505.9 925,503.4 931.3,505.9 936.4,502.9 941.4,504.7 949,503.4 955.3,503.4 964.1,498.4 971.6,502.1 976.7,502.1 983,505.9 991.8,502.1 998.1,507.2 1004.4,502.1 1010.6,505.9 1019.5,500.9 1027,499.6 1032,504.7 1032.2,504.7" fill="none" stroke="#5ea3dd" stroke-width="1.5" stroke-linejoin="round"/>
<polyline points="50.7,537.4 50.7,537.4 57.8,534.9 62.8,533.6 67.8,532.4 72.9,536.1 80.4,534.4 85.5,534.9 90.5,537.4 95.5,535.6 100.6,537.4 105.6,532.4 109.4,536.9 114.4,537.4 119.4,537.4 125.7,536.1 130.8,534.9 138.3,535.6 144.6,537.4 150.9,535.6 158.5,532.4 163.5,534.9 169.8,533.1 176.1,531.1 181.1,534.4 186.2,536.1 192.5,532.4 197.5,534.9 203.8,535.6 211.3,535.6 218.9,537.4 223.9,535.6 229,533.1 235.3,536.1 239,534.4 244.1,538.1 249.1,538.1 254.1,534.9 259.2,536.1 264.2,534.9 266.3,536.1 272.6,534.9 278.9,536.1 285.2,534.9 291.5,537.4 297.8,535.6 304.1,534.4 310.4,536.9 316.6,535.6 322.9,537.4 330.5,539.1 336.8,534.9 344.3,536.1 350.6,535.6 356.9,536.9 363.2,534.9 368.3,538.6 375.8,536.1 383.4,538.6 396,533.6 401,537.4 408.5,539.4 414.8,537.4 422.4,534.1 428.7,536.6 433.7,533.1 438.8,536.9 447.6,535.6 455.1,536.9 461.4,535.6 469,537.4 474,534.1 480.3,537.4 486.6,536.1 491.6,533.6 497.9,538.1 504.2,533.6 505,536.1 511.3,538.1 517.6,538.1 522.7,539.1 529,537.4 535.2,536.1 540.3,534.9 544.1,534.9 549.1,536.6 554.1,533.6 560.4,534.9 564.2,534.9 568,535.4 575.5,534.1 580.6,537.4 585.6,536.1 589.4,532.4 594.4,534.9 598.2,534.9 603.2,538.6 608.3,536.1 615.8,534.1 620.8,537.4 627.1,535.6 633.4,533.1 639.7,534.9 644.8,534.1 651.1,533.1 654.8,532.6 658.6,534.1 666.2,537.4 671.2,536.1 676.2,534.9 682.5,535.6 687.6,534.9 693.9,533.6 700.2,537.4 707.7,533.1 714,536.1 720.3,534.9 726.6,537.4 731.6,537.4 736.7,533.1 741.7,535.6 747.6,537.4 755.1,538.1 760.1,534.9 767.7,535.6 772.7,533.6 779,532.4 785.3,536.1 792.9,535.6 800.4,538.6 806.7,535.6 810.5,534.9 816.8,539.9 821.8,534.1 826.9,538.6 831.9,540.7 838.2,545.7 844.5,542.4 850.8,543.2 857.1,533.6 865.9,530.6 872.2,529.1 877.2,531.6 886,527.3 893.6,536.1 901.1,534.9 911.2,534.1 917.5,538.6 923.8,534.9 931.3,537.4 938.9,536.1 945.2,537.4 952.7,535.6 959,536.1 964.1,532.4 970.4,534.1 976.7,534.9 983,538.1 990.5,534.9 996.8,536.1 1005.6,538.1 1013.2,535.6 1019.5,537.4 1024.5,534.9 1032,538.1 1032.2,538.1" fill="none" stroke="#c6e3f5" stroke-width="1.5" stroke-linejoin="round"/>
<rect x="33.7" y="606.5" width="13" height="3.5" rx="1.75" fill="#c0e4f8"/>
<text x="60" y="612" font-size="12" fill="#ccccdc" text-anchor="start" font-weight="400" textLength="81" lengthAdjust="spacingAndGlyphs" stroke="#ccccdc" stroke-width="0.3">web_server_01</text>
<rect x="157" y="606.5" width="13" height="3.5" rx="1.75" fill="#5899d6"/>
<text x="183" y="612" font-size="12" fill="#ccccdc" text-anchor="start" font-weight="400" textLength="81" lengthAdjust="spacingAndGlyphs" stroke="#ccccdc" stroke-width="0.3">web_server_02</text>
<rect x="281.1" y="606.5" width="13" height="3.5" rx="1.75" fill="#3a86d0"/>
<text x="307.1" y="612" font-size="12" fill="#ccccdc" text-anchor="start" font-weight="400" textLength="81" lengthAdjust="spacingAndGlyphs" stroke="#ccccdc" stroke-width="0.3">web_server_03</text>
<rect x="405" y="606.5" width="13" height="3.5" rx="1.75" fill="#1f4f86"/>
<text x="432" y="612" font-size="12" fill="#ccccdc" text-anchor="start" font-weight="400" textLength="81" lengthAdjust="spacingAndGlyphs" stroke="#ccccdc" stroke-width="0.3">web_server_04</text>
<rect x="1075.4" y="410" width="92.3" height="187" rx="2" fill="#222327"/>
<rect x="1075.4" y="595.0" width="92.3" height="2.0" rx="1" fill="#2d4a70"/>
<rect x="1075.4" y="595.0" width="92.3" height="2" fill="#5794f2"/>
<text x="1121.6" y="402.8" font-size="24" fill="#5794f2" text-anchor="middle" font-weight="400" textLength="63.7" lengthAdjust="spacingAndGlyphs" stroke="#5794f2" stroke-width="0.5">0.400</text>
<text x="1121.6" y="612.5" font-size="14" fill="#ccccdc" text-anchor="middle" font-weight="400" textLength="53" lengthAdjust="spacingAndGlyphs" stroke="#ccccdc" stroke-width="0.3">A-series</text>
<rect x="1177.6" y="410" width="92.3" height="187" rx="2" fill="#222327"/>
<rect x="1177.6" y="544.2" width="92.3" height="52.8" rx="1" fill="#2d4a70"/>
<rect x="1177.6" y="544.2" width="92.3" height="2" fill="#5794f2"/>
<text x="1223.7" y="402.8" font-size="24" fill="#5794f2" text-anchor="middle" font-weight="400" textLength="42" lengthAdjust="spacingAndGlyphs" stroke="#5794f2" stroke-width="0.5">27.7</text>
<text x="1223.7" y="612.5" font-size="14" fill="#ccccdc" text-anchor="middle" font-weight="400" textLength="53" lengthAdjust="spacingAndGlyphs" stroke="#ccccdc" stroke-width="0.3">B-series</text>
<rect x="1279.7" y="410" width="92.3" height="187" rx="2" fill="#222327"/>
<rect x="1279.7" y="525.6" width="92.3" height="71.4" rx="1" fill="#2d4a70"/>
<rect x="1279.7" y="525.6" width="92.3" height="2" fill="#5794f2"/>
<text x="1325.9" y="402.8" font-size="24" fill="#5794f2" text-anchor="middle" font-weight="400" textLength="39" lengthAdjust="spacingAndGlyphs" stroke="#5794f2" stroke-width="0.5">37.1</text>
<text x="1325.9" y="612.5" font-size="14" fill="#ccccdc" text-anchor="middle" font-weight="400" textLength="53" lengthAdjust="spacingAndGlyphs" stroke="#ccccdc" stroke-width="0.3">C-series</text>
<rect x="1381.9" y="410" width="92.3" height="187" rx="2" fill="#222327"/>
<rect x="1381.9" y="470.0" width="92.3" height="127.0" rx="1" fill="#533d62"/>
<rect x="1381.9" y="470.0" width="92.3" height="2" fill="#b877d9"/>
<text x="1428" y="402.8" font-size="24" fill="#b877d9" text-anchor="middle" font-weight="400" textLength="48" lengthAdjust="spacingAndGlyphs" stroke="#b877d9" stroke-width="0.5">66.5</text>
<text x="1428" y="612.5" font-size="14" fill="#ccccdc" text-anchor="middle" font-weight="400" textLength="53" lengthAdjust="spacingAndGlyphs" stroke="#ccccdc" stroke-width="0.3">D-series</text>
<rect x="1484.0" y="410" width="92.3" height="187" rx="2" fill="#222327"/>
<rect x="1484.0" y="556.3" width="92.3" height="40.7" rx="1" fill="#2d4a70"/>
<rect x="1484.0" y="556.3" width="92.3" height="2" fill="#5794f2"/>
<text x="1530.2" y="402.8" font-size="24" fill="#5794f2" text-anchor="middle" font-weight="400" textLength="43" lengthAdjust="spacingAndGlyphs" stroke="#5794f2" stroke-width="0.5">21.2</text>
<text x="1530.2" y="612.5" font-size="14" fill="#ccccdc" text-anchor="middle" font-weight="400" textLength="53" lengthAdjust="spacingAndGlyphs" stroke="#ccccdc" stroke-width="0.3">E-series</text>
<line x1="56.4" y1="848.4" x2="1412" y2="848.4" stroke="rgba(204,204,220,0.14)"/>
<text x="50" y="852.7" font-size="12" fill="#ccccdc" text-anchor="end" font-weight="400" stroke="#ccccdc" stroke-width="0.3">0 ms</text>
<line x1="56.4" y1="815.2" x2="1412" y2="815.2" stroke="rgba(204,204,220,0.14)"/>
<text x="50" y="819.5" font-size="12" fill="#ccccdc" text-anchor="end" font-weight="400" stroke="#ccccdc" stroke-width="0.3">1 s</text>
<line x1="56.4" y1="782.1" x2="1412" y2="782.1" stroke="rgba(204,204,220,0.14)"/>
<text x="50" y="786.4" font-size="12" fill="#ccccdc" text-anchor="end" font-weight="400" stroke="#ccccdc" stroke-width="0.3">2 s</text>
<line x1="56.4" y1="748.9" x2="1412" y2="748.9" stroke="rgba(204,204,220,0.14)"/>
<text x="50" y="753.2" font-size="12" fill="#ccccdc" text-anchor="end" font-weight="400" stroke="#ccccdc" stroke-width="0.3">3 s</text>
<line x1="56.4" y1="715.7" x2="1412" y2="715.7" stroke="rgba(204,204,220,0.14)"/>
<text x="50" y="720" font-size="12" fill="#ccccdc" text-anchor="end" font-weight="400" stroke="#ccccdc" stroke-width="0.3">4 s</text>
<line x1="56.4" y1="682.5" x2="1412" y2="682.5" stroke="rgba(204,204,220,0.14)"/>
<text x="50" y="686.8" font-size="12" fill="#ccccdc" text-anchor="end" font-weight="400" stroke="#ccccdc" stroke-width="0.3">5 s</text>
<line x1="61.6" y1="682.5" x2="61.6" y2="848.4" stroke="rgba(204,204,220,0.14)"/>
<text x="61.6" y="867" font-size="12" fill="#ccccdc" text-anchor="middle" font-weight="400" stroke="#ccccdc" stroke-width="0.3">16:50</text>
<line x1="174.5" y1="682.5" x2="174.5" y2="848.4" stroke="rgba(204,204,220,0.14)"/>
<text x="174.5" y="867" font-size="12" fill="#ccccdc" text-anchor="middle" font-weight="400" stroke="#ccccdc" stroke-width="0.3">16:55</text>
<line x1="287.4" y1="682.5" x2="287.4" y2="848.4" stroke="rgba(204,204,220,0.14)"/>
<text x="287.4" y="867" font-size="12" fill="#ccccdc" text-anchor="middle" font-weight="400" stroke="#ccccdc" stroke-width="0.3">17:00</text>
<line x1="400.3" y1="682.5" x2="400.3" y2="848.4" stroke="rgba(204,204,220,0.14)"/>
<text x="400.3" y="867" font-size="12" fill="#ccccdc" text-anchor="middle" font-weight="400" stroke="#ccccdc" stroke-width="0.3">17:05</text>
<line x1="513.2" y1="682.5" x2="513.2" y2="848.4" stroke="rgba(204,204,220,0.14)"/>
<text x="513.2" y="867" font-size="12" fill="#ccccdc" text-anchor="middle" font-weight="400" stroke="#ccccdc" stroke-width="0.3">17:10</text>
<line x1="626.1" y1="682.5" x2="626.1" y2="848.4" stroke="rgba(204,204,220,0.14)"/>
<text x="626.1" y="867" font-size="12" fill="#ccccdc" text-anchor="middle" font-weight="400" stroke="#ccccdc" stroke-width="0.3">17:15</text>
<line x1="739.0" y1="682.5" x2="739.0" y2="848.4" stroke="rgba(204,204,220,0.14)"/>
<text x="739" y="867" font-size="12" fill="#ccccdc" text-anchor="middle" font-weight="400" stroke="#ccccdc" stroke-width="0.3">17:20</text>
<line x1="851.9" y1="682.5" x2="851.9" y2="848.4" stroke="rgba(204,204,220,0.14)"/>
<text x="851.9" y="867" font-size="12" fill="#ccccdc" text-anchor="middle" font-weight="400" stroke="#ccccdc" stroke-width="0.3">17:25</text>
<line x1="964.8" y1="682.5" x2="964.8" y2="848.4" stroke="rgba(204,204,220,0.14)"/>
<text x="964.8" y="867" font-size="12" fill="#ccccdc" text-anchor="middle" font-weight="400" stroke="#ccccdc" stroke-width="0.3">17:30</text>
<line x1="1077.7" y1="682.5" x2="1077.7" y2="848.4" stroke="rgba(204,204,220,0.14)"/>
<text x="1077.7" y="867" font-size="12" fill="#ccccdc" text-anchor="middle" font-weight="400" stroke="#ccccdc" stroke-width="0.3">17:35</text>
<line x1="1190.6" y1="682.5" x2="1190.6" y2="848.4" stroke="rgba(204,204,220,0.14)"/>
<text x="1190.6" y="867" font-size="12" fill="#ccccdc" text-anchor="middle" font-weight="400" stroke="#ccccdc" stroke-width="0.3">17:40</text>
<line x1="1303.5" y1="682.5" x2="1303.5" y2="848.4" stroke="rgba(204,204,220,0.14)"/>
<text x="1303.5" y="867" font-size="12" fill="#ccccdc" text-anchor="middle" font-weight="400" stroke="#ccccdc" stroke-width="0.3">17:45</text>
<rect x="56.0" y="736.9" width="20.6" height="111.5" fill="#e24d42"/>
<rect x="56.0" y="793.0" width="20.6" height="55.4" fill="#ef843c"/>
<rect x="56.0" y="827.6" width="20.6" height="20.8" fill="#e8b83a"/>
<rect x="56.0" y="845.2" width="20.6" height="3.2" fill="#efc86f"/>
<rect x="106.9" y="778.0" width="60.0" height="70.4" fill="#e24d42"/>
<rect x="106.9" y="808.8" width="60.0" height="39.6" fill="#ef843c"/>
<rect x="106.9" y="833.5" width="60.0" height="14.9" fill="#e8b83a"/>
<rect x="106.9" y="847.5" width="60.0" height="0.9" fill="#efc86f"/>
<rect x="197.0" y="744.2" width="60.0" height="104.2" fill="#e24d42"/>
<rect x="197.0" y="793.0" width="60.0" height="55.4" fill="#ef843c"/>
<rect x="197.0" y="826.4" width="60.0" height="22.0" fill="#e8b83a"/>
<rect x="197.0" y="845.0" width="60.0" height="3.4" fill="#efc86f"/>
<rect x="287.2" y="745.8" width="60.3" height="102.6" fill="#e24d42"/>
<rect x="287.2" y="794.0" width="60.3" height="54.4" fill="#ef843c"/>
<rect x="287.2" y="827.1" width="60.3" height="21.3" fill="#e8b83a"/>
<rect x="287.2" y="845.0" width="60.3" height="3.4" fill="#efc86f"/>
<rect x="377.8" y="754.6" width="60.0" height="93.8" fill="#e24d42"/>
<rect x="377.8" y="798.1" width="60.0" height="50.3" fill="#ef843c"/>
<rect x="377.8" y="829.9" width="60.0" height="18.5" fill="#e8b83a"/>
<rect x="377.8" y="845.4" width="60.0" height="3.0" fill="#efc86f"/>
<rect x="468.2" y="757.2" width="60.1" height="91.2" fill="#e24d42"/>
<rect x="468.2" y="796.0" width="60.1" height="52.4" fill="#ef843c"/>
<rect x="468.2" y="827.8" width="60.1" height="20.6" fill="#e8b83a"/>
<rect x="468.2" y="843.9" width="60.1" height="4.5" fill="#efc86f"/>
<rect x="558.5" y="757.2" width="60.1" height="91.2" fill="#e24d42"/>
<rect x="558.5" y="801.7" width="60.1" height="46.7" fill="#ef843c"/>
<rect x="558.5" y="829.0" width="60.1" height="19.4" fill="#e8b83a"/>
<rect x="558.5" y="843.5" width="60.1" height="4.9" fill="#efc86f"/>
<rect x="648.8" y="744.6" width="60.0" height="103.8" fill="#e24d42"/>
<rect x="648.8" y="789.8" width="60.0" height="58.6" fill="#ef843c"/>
<rect x="648.8" y="825.4" width="60.0" height="23.0" fill="#e8b83a"/>
<rect x="648.8" y="843.0" width="60.0" height="5.4" fill="#efc86f"/>
<rect x="739.0" y="716.6" width="60.0" height="131.8" fill="#e24d42"/>
<rect x="739.0" y="777.9" width="60.0" height="70.5" fill="#ef843c"/>
<rect x="739.0" y="822.8" width="60.0" height="25.6" fill="#e8b83a"/>
<rect x="739.0" y="841.8" width="60.0" height="6.6" fill="#efc86f"/>
<rect x="829.2" y="752.0" width="60.1" height="96.4" fill="#e24d42"/>
<rect x="829.2" y="794.3" width="60.1" height="54.1" fill="#ef843c"/>
<rect x="829.2" y="824.7" width="60.1" height="23.7" fill="#e8b83a"/>
<rect x="829.2" y="842.7" width="60.1" height="5.7" fill="#efc86f"/>
<rect x="919.7" y="716.9" width="60.1" height="131.5" fill="#e24d42"/>
<rect x="919.7" y="775.5" width="60.1" height="72.9" fill="#ef843c"/>
<rect x="919.7" y="818.8" width="60.1" height="29.6" fill="#e8b83a"/>
<rect x="919.7" y="839.7" width="60.1" height="8.7" fill="#efc86f"/>
<rect x="1010.0" y="743.2" width="60.0" height="105.2" fill="#e24d42"/>
<rect x="1010.0" y="791.9" width="60.0" height="56.5" fill="#ef843c"/>
<rect x="1010.0" y="828.7" width="60.0" height="19.7" fill="#e8b83a"/>
<rect x="1010.0" y="843.5" width="60.0" height="4.9" fill="#efc86f"/>
<rect x="1100.4" y="721.2" width="60.3" height="127.2" fill="#e24d42"/>
<rect x="1100.4" y="783.7" width="60.3" height="64.7" fill="#ef843c"/>
<rect x="1100.4" y="823.5" width="60.3" height="24.9" fill="#e8b83a"/>
<rect x="1100.4" y="841.5" width="60.3" height="6.9" fill="#efc86f"/>
<rect x="1191.0" y="738.9" width="60.0" height="109.5" fill="#e24d42"/>
<rect x="1191.0" y="783.7" width="60.0" height="64.7" fill="#ef843c"/>
<rect x="1191.0" y="819.6" width="60.0" height="28.8" fill="#e8b83a"/>
<rect x="1191.0" y="840.5" width="60.0" height="7.9" fill="#efc86f"/>
<rect x="1281.0" y="718.9" width="60.4" height="129.5" fill="#e24d42"/>
<rect x="1281.0" y="776.1" width="60.4" height="72.3" fill="#ef843c"/>
<rect x="1281.0" y="815.2" width="60.4" height="33.2" fill="#e8b83a"/>
<rect x="1281.0" y="839.8" width="60.4" height="8.6" fill="#efc86f"/>
<rect x="1371.3" y="754.8" width="40.7" height="93.6" fill="#e24d42"/>
<rect x="1371.3" y="799.7" width="40.7" height="48.7" fill="#ef843c"/>
<rect x="1371.3" y="832.4" width="40.7" height="16.0" fill="#e8b83a"/>
<rect x="1371.3" y="846.6" width="40.7" height="1.8" fill="#efc86f"/>
<text x="1561.4" y="692" font-size="12" fill="#33a2e5" text-anchor="end" font-weight="400" textLength="19.2" lengthAdjust="spacingAndGlyphs" stroke="#33a2e5" stroke-width="0.3">avg</text>
<rect x="1434.7" y="708.8" width="13.3" height="3.5" rx="1.75" fill="#fce3cc"/>
<text x="1458" y="714.5" font-size="12" fill="#ccccdc" text-anchor="start" font-weight="400" textLength="50.6" lengthAdjust="spacingAndGlyphs" stroke="#ccccdc" stroke-width="0.3">upper_25</text>
<text x="1569" y="714.5" font-size="12" fill="#ccccdc" text-anchor="end" font-weight="400" stroke="#ccccdc" stroke-width="0.3">6.81 ms</text>
<rect x="1433" y="723.1" width="138.3" height="25.6" fill="rgba(204,204,220,0.04)"/>
<rect x="1434.7" y="734.4" width="13.3" height="3.5" rx="1.75" fill="#f2c96d"/>
<text x="1458" y="740.1" font-size="12" fill="#ccccdc" text-anchor="start" font-weight="400" textLength="50.6" lengthAdjust="spacingAndGlyphs" stroke="#ccccdc" stroke-width="0.3">upper_50</text>
<text x="1569" y="740.1" font-size="12" fill="#ccccdc" text-anchor="end" font-weight="400" stroke="#ccccdc" stroke-width="0.3">142 ms</text>
<rect x="1434.7" y="760.0" width="13.3" height="3.5" rx="1.75" fill="#f2c230"/>
<text x="1458" y="765.7" font-size="12" fill="#ccccdc" text-anchor="start" font-weight="400" textLength="50.6" lengthAdjust="spacingAndGlyphs" stroke="#ccccdc" stroke-width="0.3">upper_75</text>
<text x="1569" y="765.7" font-size="12" fill="#ccccdc" text-anchor="end" font-weight="400" stroke="#ccccdc" stroke-width="0.3">535 ms</text>
<rect x="1433" y="774.3" width="138.3" height="25.6" fill="rgba(204,204,220,0.04)"/>
<rect x="1434.7" y="785.6" width="13.3" height="3.5" rx="1.75" fill="#ef843c"/>
<text x="1458" y="791.3" font-size="12" fill="#ccccdc" text-anchor="start" font-weight="400" textLength="50.6" lengthAdjust="spacingAndGlyphs" stroke="#ccccdc" stroke-width="0.3">upper_90</text>
<text x="1569" y="791.3" font-size="12" fill="#ccccdc" text-anchor="end" font-weight="400" stroke="#ccccdc" stroke-width="0.3">1.04 s</text>
<rect x="1434.7" y="811.2" width="13.3" height="3.5" rx="1.75" fill="#e24d42"/>
<text x="1458" y="816.9" font-size="12" fill="#ccccdc" text-anchor="start" font-weight="400" textLength="50.6" lengthAdjust="spacingAndGlyphs" stroke="#ccccdc" stroke-width="0.3">upper_95</text>
<text x="1569" y="816.9" font-size="12" fill="#ccccdc" text-anchor="end" font-weight="400" stroke="#ccccdc" stroke-width="0.3">1.46 s</text>
</svg></body></html>
